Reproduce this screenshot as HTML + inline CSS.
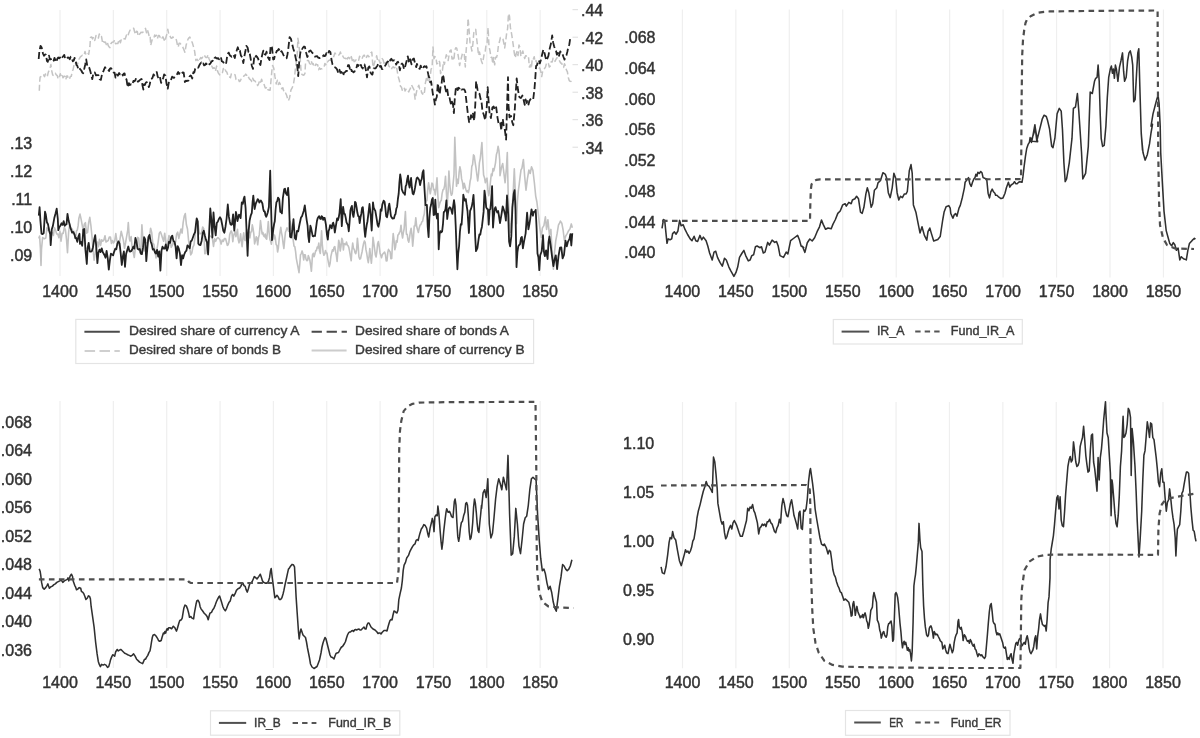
<!DOCTYPE html>
<html><head><meta charset="utf-8"><style>html,body{margin:0;padding:0;background:#fff;}svg{display:block;filter:blur(0.45px);}</style></head>
<body><svg width="1200" height="738" viewBox="0 0 1200 738" font-family='"Liberation Sans", sans-serif'><line x1="60.00" y1="10" x2="60.00" y2="276" stroke="#efefef" stroke-width="1.2"/>
<line x1="113.35" y1="10" x2="113.35" y2="276" stroke="#efefef" stroke-width="1.2"/>
<line x1="166.70" y1="10" x2="166.70" y2="276" stroke="#efefef" stroke-width="1.2"/>
<line x1="220.05" y1="10" x2="220.05" y2="276" stroke="#efefef" stroke-width="1.2"/>
<line x1="273.40" y1="10" x2="273.40" y2="276" stroke="#efefef" stroke-width="1.2"/>
<line x1="326.75" y1="10" x2="326.75" y2="276" stroke="#efefef" stroke-width="1.2"/>
<line x1="380.10" y1="10" x2="380.10" y2="276" stroke="#efefef" stroke-width="1.2"/>
<line x1="433.45" y1="10" x2="433.45" y2="276" stroke="#efefef" stroke-width="1.2"/>
<line x1="486.80" y1="10" x2="486.80" y2="276" stroke="#efefef" stroke-width="1.2"/>
<line x1="540.15" y1="10" x2="540.15" y2="276" stroke="#efefef" stroke-width="1.2"/>
<line x1="682.40" y1="9.6" x2="682.40" y2="277.5" stroke="#efefef" stroke-width="1.2"/>
<line x1="735.85" y1="9.6" x2="735.85" y2="277.5" stroke="#efefef" stroke-width="1.2"/>
<line x1="789.30" y1="9.6" x2="789.30" y2="277.5" stroke="#efefef" stroke-width="1.2"/>
<line x1="842.75" y1="9.6" x2="842.75" y2="277.5" stroke="#efefef" stroke-width="1.2"/>
<line x1="896.20" y1="9.6" x2="896.20" y2="277.5" stroke="#efefef" stroke-width="1.2"/>
<line x1="949.65" y1="9.6" x2="949.65" y2="277.5" stroke="#efefef" stroke-width="1.2"/>
<line x1="1003.10" y1="9.6" x2="1003.10" y2="277.5" stroke="#efefef" stroke-width="1.2"/>
<line x1="1056.55" y1="9.6" x2="1056.55" y2="277.5" stroke="#efefef" stroke-width="1.2"/>
<line x1="1110.00" y1="9.6" x2="1110.00" y2="277.5" stroke="#efefef" stroke-width="1.2"/>
<line x1="1163.45" y1="9.6" x2="1163.45" y2="277.5" stroke="#efefef" stroke-width="1.2"/>
<line x1="60.00" y1="401" x2="60.00" y2="668" stroke="#efefef" stroke-width="1.2"/>
<line x1="113.35" y1="401" x2="113.35" y2="668" stroke="#efefef" stroke-width="1.2"/>
<line x1="166.70" y1="401" x2="166.70" y2="668" stroke="#efefef" stroke-width="1.2"/>
<line x1="220.05" y1="401" x2="220.05" y2="668" stroke="#efefef" stroke-width="1.2"/>
<line x1="273.40" y1="401" x2="273.40" y2="668" stroke="#efefef" stroke-width="1.2"/>
<line x1="326.75" y1="401" x2="326.75" y2="668" stroke="#efefef" stroke-width="1.2"/>
<line x1="380.10" y1="401" x2="380.10" y2="668" stroke="#efefef" stroke-width="1.2"/>
<line x1="433.45" y1="401" x2="433.45" y2="668" stroke="#efefef" stroke-width="1.2"/>
<line x1="486.80" y1="401" x2="486.80" y2="668" stroke="#efefef" stroke-width="1.2"/>
<line x1="540.15" y1="401" x2="540.15" y2="668" stroke="#efefef" stroke-width="1.2"/>
<line x1="682.50" y1="401.9" x2="682.50" y2="668.3" stroke="#efefef" stroke-width="1.2"/>
<line x1="735.89" y1="401.9" x2="735.89" y2="668.3" stroke="#efefef" stroke-width="1.2"/>
<line x1="789.28" y1="401.9" x2="789.28" y2="668.3" stroke="#efefef" stroke-width="1.2"/>
<line x1="842.67" y1="401.9" x2="842.67" y2="668.3" stroke="#efefef" stroke-width="1.2"/>
<line x1="896.06" y1="401.9" x2="896.06" y2="668.3" stroke="#efefef" stroke-width="1.2"/>
<line x1="949.45" y1="401.9" x2="949.45" y2="668.3" stroke="#efefef" stroke-width="1.2"/>
<line x1="1002.84" y1="401.9" x2="1002.84" y2="668.3" stroke="#efefef" stroke-width="1.2"/>
<line x1="1056.23" y1="401.9" x2="1056.23" y2="668.3" stroke="#efefef" stroke-width="1.2"/>
<line x1="1109.62" y1="401.9" x2="1109.62" y2="668.3" stroke="#efefef" stroke-width="1.2"/>
<line x1="1163.01" y1="401.9" x2="1163.01" y2="668.3" stroke="#efefef" stroke-width="1.2"/>
<text x="60.00" y="297.20" font-size="16" text-anchor="middle" fill="#333" stroke="#333" stroke-width="0.45" >1400</text>
<text x="113.35" y="297.20" font-size="16" text-anchor="middle" fill="#333" stroke="#333" stroke-width="0.45" >1450</text>
<text x="166.70" y="297.20" font-size="16" text-anchor="middle" fill="#333" stroke="#333" stroke-width="0.45" >1500</text>
<text x="220.05" y="297.20" font-size="16" text-anchor="middle" fill="#333" stroke="#333" stroke-width="0.45" >1550</text>
<text x="273.40" y="297.20" font-size="16" text-anchor="middle" fill="#333" stroke="#333" stroke-width="0.45" >1600</text>
<text x="326.75" y="297.20" font-size="16" text-anchor="middle" fill="#333" stroke="#333" stroke-width="0.45" >1650</text>
<text x="380.10" y="297.20" font-size="16" text-anchor="middle" fill="#333" stroke="#333" stroke-width="0.45" >1700</text>
<text x="433.45" y="297.20" font-size="16" text-anchor="middle" fill="#333" stroke="#333" stroke-width="0.45" >1750</text>
<text x="486.80" y="297.20" font-size="16" text-anchor="middle" fill="#333" stroke="#333" stroke-width="0.45" >1800</text>
<text x="540.15" y="297.20" font-size="16" text-anchor="middle" fill="#333" stroke="#333" stroke-width="0.45" >1850</text>
<text x="682.40" y="297.20" font-size="16" text-anchor="middle" fill="#333" stroke="#333" stroke-width="0.45" >1400</text>
<text x="735.85" y="297.20" font-size="16" text-anchor="middle" fill="#333" stroke="#333" stroke-width="0.45" >1450</text>
<text x="789.30" y="297.20" font-size="16" text-anchor="middle" fill="#333" stroke="#333" stroke-width="0.45" >1500</text>
<text x="842.75" y="297.20" font-size="16" text-anchor="middle" fill="#333" stroke="#333" stroke-width="0.45" >1550</text>
<text x="896.20" y="297.20" font-size="16" text-anchor="middle" fill="#333" stroke="#333" stroke-width="0.45" >1600</text>
<text x="949.65" y="297.20" font-size="16" text-anchor="middle" fill="#333" stroke="#333" stroke-width="0.45" >1650</text>
<text x="1003.10" y="297.20" font-size="16" text-anchor="middle" fill="#333" stroke="#333" stroke-width="0.45" >1700</text>
<text x="1056.55" y="297.20" font-size="16" text-anchor="middle" fill="#333" stroke="#333" stroke-width="0.45" >1750</text>
<text x="1110.00" y="297.20" font-size="16" text-anchor="middle" fill="#333" stroke="#333" stroke-width="0.45" >1800</text>
<text x="1163.45" y="297.20" font-size="16" text-anchor="middle" fill="#333" stroke="#333" stroke-width="0.45" >1850</text>
<text x="60.00" y="688.40" font-size="16" text-anchor="middle" fill="#333" stroke="#333" stroke-width="0.45" >1400</text>
<text x="113.35" y="688.40" font-size="16" text-anchor="middle" fill="#333" stroke="#333" stroke-width="0.45" >1450</text>
<text x="166.70" y="688.40" font-size="16" text-anchor="middle" fill="#333" stroke="#333" stroke-width="0.45" >1500</text>
<text x="220.05" y="688.40" font-size="16" text-anchor="middle" fill="#333" stroke="#333" stroke-width="0.45" >1550</text>
<text x="273.40" y="688.40" font-size="16" text-anchor="middle" fill="#333" stroke="#333" stroke-width="0.45" >1600</text>
<text x="326.75" y="688.40" font-size="16" text-anchor="middle" fill="#333" stroke="#333" stroke-width="0.45" >1650</text>
<text x="380.10" y="688.40" font-size="16" text-anchor="middle" fill="#333" stroke="#333" stroke-width="0.45" >1700</text>
<text x="433.45" y="688.40" font-size="16" text-anchor="middle" fill="#333" stroke="#333" stroke-width="0.45" >1750</text>
<text x="486.80" y="688.40" font-size="16" text-anchor="middle" fill="#333" stroke="#333" stroke-width="0.45" >1800</text>
<text x="540.15" y="688.40" font-size="16" text-anchor="middle" fill="#333" stroke="#333" stroke-width="0.45" >1850</text>
<text x="682.50" y="688.40" font-size="16" text-anchor="middle" fill="#333" stroke="#333" stroke-width="0.45" >1400</text>
<text x="735.89" y="688.40" font-size="16" text-anchor="middle" fill="#333" stroke="#333" stroke-width="0.45" >1450</text>
<text x="789.28" y="688.40" font-size="16" text-anchor="middle" fill="#333" stroke="#333" stroke-width="0.45" >1500</text>
<text x="842.67" y="688.40" font-size="16" text-anchor="middle" fill="#333" stroke="#333" stroke-width="0.45" >1550</text>
<text x="896.06" y="688.40" font-size="16" text-anchor="middle" fill="#333" stroke="#333" stroke-width="0.45" >1600</text>
<text x="949.45" y="688.40" font-size="16" text-anchor="middle" fill="#333" stroke="#333" stroke-width="0.45" >1650</text>
<text x="1002.84" y="688.40" font-size="16" text-anchor="middle" fill="#333" stroke="#333" stroke-width="0.45" >1700</text>
<text x="1056.23" y="688.40" font-size="16" text-anchor="middle" fill="#333" stroke="#333" stroke-width="0.45" >1750</text>
<text x="1109.62" y="688.40" font-size="16" text-anchor="middle" fill="#333" stroke="#333" stroke-width="0.45" >1800</text>
<text x="1163.01" y="688.40" font-size="16" text-anchor="middle" fill="#333" stroke="#333" stroke-width="0.45" >1850</text>
<text x="32.20" y="148.90" font-size="16" text-anchor="end" fill="#333" stroke="#333" stroke-width="0.45" >.13</text>
<text x="32.20" y="176.97" font-size="16" text-anchor="end" fill="#333" stroke="#333" stroke-width="0.45" >.12</text>
<text x="32.20" y="205.04" font-size="16" text-anchor="end" fill="#333" stroke="#333" stroke-width="0.45" >.11</text>
<text x="32.20" y="233.11" font-size="16" text-anchor="end" fill="#333" stroke="#333" stroke-width="0.45" >.10</text>
<text x="32.20" y="261.18" font-size="16" text-anchor="end" fill="#333" stroke="#333" stroke-width="0.45" >.09</text>
<text x="581.00" y="16.00" font-size="16" text-anchor="start" fill="#333" stroke="#333" stroke-width="0.45" >.44</text>
<line x1="572.5" y1="9.70" x2="578" y2="9.70" stroke="#ddd" stroke-width="1"/>
<text x="581.00" y="43.50" font-size="16" text-anchor="start" fill="#333" stroke="#333" stroke-width="0.45" >.42</text>
<line x1="572.5" y1="37.20" x2="578" y2="37.20" stroke="#ddd" stroke-width="1"/>
<text x="581.00" y="71.00" font-size="16" text-anchor="start" fill="#333" stroke="#333" stroke-width="0.45" >.40</text>
<line x1="572.5" y1="64.70" x2="578" y2="64.70" stroke="#ddd" stroke-width="1"/>
<text x="581.00" y="98.50" font-size="16" text-anchor="start" fill="#333" stroke="#333" stroke-width="0.45" >.38</text>
<line x1="572.5" y1="92.20" x2="578" y2="92.20" stroke="#ddd" stroke-width="1"/>
<text x="581.00" y="126.00" font-size="16" text-anchor="start" fill="#333" stroke="#333" stroke-width="0.45" >.36</text>
<line x1="572.5" y1="119.70" x2="578" y2="119.70" stroke="#ddd" stroke-width="1"/>
<text x="581.00" y="153.50" font-size="16" text-anchor="start" fill="#333" stroke="#333" stroke-width="0.45" >.34</text>
<line x1="572.5" y1="147.20" x2="578" y2="147.20" stroke="#ddd" stroke-width="1"/>
<text x="655.50" y="43.40" font-size="16" text-anchor="end" fill="#333" stroke="#333" stroke-width="0.45" >.068</text>
<text x="655.50" y="74.09" font-size="16" text-anchor="end" fill="#333" stroke="#333" stroke-width="0.45" >.064</text>
<text x="655.50" y="104.78" font-size="16" text-anchor="end" fill="#333" stroke="#333" stroke-width="0.45" >.060</text>
<text x="655.50" y="135.47" font-size="16" text-anchor="end" fill="#333" stroke="#333" stroke-width="0.45" >.056</text>
<text x="655.50" y="166.16" font-size="16" text-anchor="end" fill="#333" stroke="#333" stroke-width="0.45" >.052</text>
<text x="655.50" y="196.85" font-size="16" text-anchor="end" fill="#333" stroke="#333" stroke-width="0.45" >.048</text>
<text x="655.50" y="227.54" font-size="16" text-anchor="end" fill="#333" stroke="#333" stroke-width="0.45" >.044</text>
<text x="655.50" y="258.23" font-size="16" text-anchor="end" fill="#333" stroke="#333" stroke-width="0.45" >.040</text>
<text x="32.00" y="427.60" font-size="16" text-anchor="end" fill="#333" stroke="#333" stroke-width="0.45" >.068</text>
<text x="32.00" y="456.15" font-size="16" text-anchor="end" fill="#333" stroke="#333" stroke-width="0.45" >.064</text>
<text x="32.00" y="484.70" font-size="16" text-anchor="end" fill="#333" stroke="#333" stroke-width="0.45" >.060</text>
<text x="32.00" y="513.25" font-size="16" text-anchor="end" fill="#333" stroke="#333" stroke-width="0.45" >.056</text>
<text x="32.00" y="541.80" font-size="16" text-anchor="end" fill="#333" stroke="#333" stroke-width="0.45" >.052</text>
<text x="32.00" y="570.35" font-size="16" text-anchor="end" fill="#333" stroke="#333" stroke-width="0.45" >.048</text>
<text x="32.00" y="598.90" font-size="16" text-anchor="end" fill="#333" stroke="#333" stroke-width="0.45" >.044</text>
<text x="32.00" y="627.45" font-size="16" text-anchor="end" fill="#333" stroke="#333" stroke-width="0.45" >.040</text>
<text x="32.00" y="656.00" font-size="16" text-anchor="end" fill="#333" stroke="#333" stroke-width="0.45" >.036</text>
<text x="654.20" y="448.80" font-size="16" text-anchor="end" fill="#333" stroke="#333" stroke-width="0.45" >1.10</text>
<text x="654.20" y="497.90" font-size="16" text-anchor="end" fill="#333" stroke="#333" stroke-width="0.45" >1.05</text>
<text x="654.20" y="547.00" font-size="16" text-anchor="end" fill="#333" stroke="#333" stroke-width="0.45" >1.00</text>
<text x="654.20" y="596.10" font-size="16" text-anchor="end" fill="#333" stroke="#333" stroke-width="0.45" >0.95</text>
<text x="654.20" y="645.20" font-size="16" text-anchor="end" fill="#333" stroke="#333" stroke-width="0.45" >0.90</text>
<rect x="75.8" y="319.4" width="457.8" height="44.10000000000002" fill="#fff" stroke="#e4e4e4" stroke-width="1.2"/>
<line x1="84.4" y1="331.8" x2="119.8" y2="331.8" stroke="#4a4a4a" stroke-width="2.1"/>
<text x="129" y="335.2" font-size="12.4" fill="#3a3a3a" stroke="#3a3a3a" stroke-width="0.4" textLength="170.6" lengthAdjust="spacingAndGlyphs">Desired share of currency A</text>
<line x1="311.6" y1="331.8" x2="346.9" y2="331.8" stroke="#4a4a4a" stroke-width="2.1" stroke-dasharray="10.3,4.7"/>
<text x="355" y="335.2" font-size="12.4" fill="#3a3a3a" stroke="#3a3a3a" stroke-width="0.4" textLength="154" lengthAdjust="spacingAndGlyphs">Desired share of bonds A</text>
<line x1="84.6" y1="350.9" x2="119.8" y2="350.9" stroke="#cfcfcf" stroke-width="2" stroke-dasharray="10.5,4.4"/>
<text x="129" y="354" font-size="12.4" fill="#3a3a3a" stroke="#3a3a3a" stroke-width="0.4" textLength="152" lengthAdjust="spacingAndGlyphs">Desired share of bonds B</text>
<line x1="311.6" y1="350.6" x2="346.6" y2="350.6" stroke="#cccccc" stroke-width="2"/>
<text x="355" y="354" font-size="12.4" fill="#3a3a3a" stroke="#3a3a3a" stroke-width="0.4" textLength="169.6" lengthAdjust="spacingAndGlyphs">Desired share of currency B</text>
<rect x="833.3" y="319.5" width="189.0" height="24.5" fill="#fff" stroke="#e4e4e4" stroke-width="1.2"/>
<line x1="841.6" y1="331.6" x2="869.2" y2="331.6" stroke="#505050" stroke-width="2.0"/>
<text x="876.9" y="335.3" font-size="12.4" fill="#3a3a3a" stroke="#3a3a3a" stroke-width="0.4" textLength="27.5" lengthAdjust="spacingAndGlyphs">IR_A</text>
<line x1="915.2" y1="331.6" x2="939.6" y2="331.6" stroke="#555555" stroke-width="2.0" stroke-dasharray="5.4,4.1"/>
<text x="950.8" y="335.3" font-size="12.4" fill="#3a3a3a" stroke="#3a3a3a" stroke-width="0.4" textLength="63.7" lengthAdjust="spacingAndGlyphs">Fund_IR_A</text>
<rect x="210.5" y="710.8" width="189.3" height="24.40000000000009" fill="#fff" stroke="#e4e4e4" stroke-width="1.2"/>
<line x1="218.9" y1="722.9" x2="246.2" y2="722.9" stroke="#505050" stroke-width="2.0"/>
<text x="254.1" y="726.6" font-size="12.4" fill="#3a3a3a" stroke="#3a3a3a" stroke-width="0.4" textLength="26.6" lengthAdjust="spacingAndGlyphs">IR_B</text>
<line x1="292.6" y1="722.9" x2="316.4" y2="722.9" stroke="#555555" stroke-width="2.0" stroke-dasharray="5.4,4.1"/>
<text x="328.3" y="726.6" font-size="12.4" fill="#3a3a3a" stroke="#3a3a3a" stroke-width="0.4" textLength="63" lengthAdjust="spacingAndGlyphs">Fund_IR_B</text>
<rect x="845.5" y="710.5" width="164.5" height="24.799999999999955" fill="#fff" stroke="#e4e4e4" stroke-width="1.2"/>
<line x1="854.2" y1="722.5" x2="880.8" y2="722.5" stroke="#505050" stroke-width="2.0"/>
<text x="889.2" y="726.7" font-size="12.4" fill="#3a3a3a" stroke="#3a3a3a" stroke-width="0.4" textLength="14.1" lengthAdjust="spacingAndGlyphs">ER</text>
<line x1="915.3" y1="722.5" x2="939.2" y2="722.5" stroke="#555555" stroke-width="2.0" stroke-dasharray="5.4,4.1"/>
<text x="950.8" y="726.7" font-size="12.4" fill="#3a3a3a" stroke="#3a3a3a" stroke-width="0.4" textLength="50.5" lengthAdjust="spacingAndGlyphs">Fund_ER</text>
<path d="M662.0,228.3 L663.5,219.5 L664.7,220.4 L667.0,243.3 L668.2,238.9 L670.0,239.8 L671.7,238.9 L672.6,233.6 L674.4,231.9 L676.1,234.2 L677.9,231.0 L679.6,220.4 L681.1,225.7 L683.2,224.8 L684.9,229.2 L687.6,234.5 L690.2,238.9 L692.0,240.7 L694.1,236.3 L695.8,240.7 L697.6,241.5 L699.9,235.4 L701.7,239.8 L703.4,237.1 L706.1,240.7 L707.8,246.0 L709.6,253.0 L712.2,260.0 L714.0,252.1 L715.7,251.2 L717.5,257.4 L720.1,262.7 L722.3,266.2 L724.5,258.3 L726.3,260.0 L728.9,267.1 L730.7,270.6 L733.9,276.4 L736.0,272.4 L737.7,267.1 L739.5,257.4 L742.1,253.0 L743.9,250.4 L745.7,255.6 L748.3,260.9 L750.1,260.0 L751.8,255.6 L753.6,254.8 L755.4,246.8 L757.1,246.0 L759.8,247.7 L761.5,246.8 L763.3,253.0 L765.0,252.1 L767.7,242.4 L769.4,245.1 L772.1,240.1 L774.7,242.4 L776.5,241.5 L778.2,246.0 L780.0,255.6 L783.5,257.4 L786.2,252.1 L787.9,253.9 L790.6,240.7 L794.1,238.0 L797.6,235.4 L799.4,239.8 L801.1,246.0 L803.8,247.7 L802.4,246.3 L804.9,252.4 L807.3,242.7 L809.8,239.0 L812.2,241.0 L814.6,237.8 L817.1,231.7 L819.5,226.8 L821.5,220.0 L823.2,224.4 L825.6,229.3 L828.0,228.0 L831.2,228.8 L832.9,224.4 L835.4,219.5 L837.8,213.4 L840.2,211.0 L842.7,204.9 L845.1,203.7 L846.3,206.1 L848.8,202.4 L851.2,203.7 L852.4,200.0 L854.9,198.8 L856.6,196.3 L858.5,198.8 L860.5,212.2 L862.2,213.4 L863.9,207.3 L865.9,193.9 L867.3,187.8 L868.8,192.7 L871.2,207.3 L872.7,203.7 L874.4,190.2 L876.8,187.8 L878.0,182.9 L880.5,180.5 L882.9,172.7 L885.4,174.4 L886.6,178.0 L888.3,192.7 L890.2,197.6 L892.2,187.8 L893.9,173.2 L895.6,178.0 L897.1,192.7 L898.8,200.0 L900.5,196.3 L902.4,197.6 L904.4,193.9 L906.1,193.9 L907.3,191.5 L909.3,170.7 L911.0,164.6 L912.2,173.2 L913.4,204.9 L915.9,212.2 L918.3,224.4 L920.0,232.9 L922.0,226.8 L924.4,235.4 L926.8,240.2 L928.0,231.7 L929.8,228.0 L931.2,232.9 L933.7,241.0 L937.8,239.5 L940.2,236.6 L942.7,220.0 L944.1,212.1 L946.1,206.7 L948.8,205.6 L950.2,208.1 L950.8,213.5 L952.9,218.2 L954.2,214.9 L955.6,213.5 L956.9,216.2 L959.0,208.1 L960.3,205.4 L962.4,197.2 L964.4,187.8 L965.1,182.3 L967.1,179.6 L968.5,177.6 L969.8,183.7 L971.2,186.4 L972.5,182.3 L973.9,178.9 L975.0,177.6 L975.9,174.2 L976.9,176.2 L977.9,172.2 L979.3,173.5 L980.7,171.5 L982.0,172.8 L983.1,177.6 L984.7,178.3 L986.7,178.9 L988.1,193.2 L989.5,197.9 L990.8,191.8 L992.2,189.1 L993.5,191.8 L994.9,193.2 L995.6,195.2 L996.9,195.2 L998.9,197.2 L1001.0,198.6 L1003.0,197.9 L1005.0,193.2 L1006.4,187.8 L1008.4,182.3 L1009.8,187.1 L1011.1,185.0 L1013.2,183.7 L1014.5,181.7 L1015.9,183.7 L1017.2,183.7 L1018.6,182.3 L1019.9,181.7 L1022.0,182.3 L1022.9,176.9 L1024.0,167.4 L1025.4,156.6 L1026.7,148.5 L1028.1,144.4 L1029.4,142.4 L1030.1,137.6 L1031.5,142.4 L1032.8,136.3 L1034.2,132.2 L1034.9,125.4 L1036.2,133.6 L1037.6,141.7 L1030.0,140.9 L1032.7,136.9 L1034.9,124.7 L1036.8,140.9 L1039.5,130.1 L1042.2,119.2 L1044.1,115.2 L1046.3,116.5 L1047.6,120.6 L1049.5,128.7 L1051.7,146.3 L1053.0,147.7 L1054.9,138.2 L1057.1,113.8 L1059.3,108.4 L1061.2,111.1 L1062.5,130.1 L1063.9,162.6 L1065.2,181.6 L1066.6,178.9 L1069.3,162.6 L1072.0,138.2 L1073.4,108.4 L1075.5,107.0 L1077.4,93.5 L1078.8,111.1 L1081.5,151.8 L1082.8,178.9 L1084.2,176.2 L1085.6,173.4 L1088.3,146.3 L1090.2,92.1 L1092.3,93.5 L1094.5,81.3 L1095.7,78.3 L1097.1,77.3 L1098.1,65.1 L1099.2,81.3 L1100.2,113.9 L1101.2,138.3 L1102.6,146.4 L1104.2,145.4 L1105.9,126.1 L1107.3,97.6 L1108.7,77.3 L1110.3,69.1 L1111.4,66.1 L1112.4,73.2 L1113.4,69.1 L1114.4,78.3 L1115.4,65.1 L1116.4,69.1 L1117.9,81.3 L1119.5,67.1 L1120.9,61.0 L1122.5,52.9 L1123.6,71.2 L1124.6,81.3 L1126.2,77.3 L1127.6,61.0 L1129.0,52.9 L1130.3,50.8 L1131.7,56.9 L1132.7,65.1 L1133.7,101.7 L1135.1,99.6 L1136.8,69.1 L1137.8,52.9 L1138.8,48.8 L1139.8,85.4 L1141.2,132.2 L1142.5,150.1 L1141.2,133.0 L1143.0,152.5 L1145.1,160.1 L1147.3,154.7 L1149.5,143.9 L1151.0,133.0 L1152.5,124.3 L1151.0,126.1 L1153.0,113.9 L1155.1,105.7 L1156.7,99.6 L1158.1,95.6 L1159.1,103.7 L1160.2,126.1 L1160.7,152.5 L1162.5,185.1 L1164.0,211.1 L1166.2,230.6 L1168.3,238.2 L1169.8,243.6 L1171.6,245.8 L1173.3,242.6 L1174.8,244.7 L1176.4,250.2 L1178.1,248.0 L1179.8,259.9 L1181.3,256.7 L1183.5,258.8 L1186.3,259.9 L1187.9,250.2 L1189.4,243.6 L1192.2,240.4 L1194.4,238.2 L1195.4,239.3" fill="none" stroke="#303030" stroke-width="1.55" stroke-linejoin="round" />
<path d="M662.0,220.8 L810.0,220.8 L810.3,205.0 L810.8,190.0 L811.5,184.5 L813.3,181.5 L816.3,179.9 L820.0,179.4 L1021.0,179.2 L1021.3,150.0 L1021.6,100.0 L1022.2,55.0 L1023.0,40.0 L1024.2,30.0 L1025.5,23.0 L1027.1,19.1 L1031.1,15.9 L1036.8,13.0 L1044.1,11.8 L1050.0,11.4 L1100.0,10.8 L1157.6,10.5 L1157.8,60.0 L1158.2,150.0 L1159.0,200.0 L1160.0,225.0 L1163.0,238.0 L1167.0,245.0 L1175.0,248.5 L1194.0,249.0" fill="none" stroke="#4e4e4e" stroke-width="2.2" stroke-linejoin="round" stroke-dasharray="5.6,4.4" />
<path d="M661.1,566.8 L662.3,572.9 L664.3,573.7 L666.0,566.8 L667.7,554.6 L669.1,542.4 L670.1,537.6 L671.6,538.8 L672.6,531.5 L674.0,537.6 L675.7,540.0 L677.4,549.8 L679.4,560.7 L681.3,565.6 L683.0,559.5 L684.3,554.6 L685.5,549.8 L686.7,552.2 L687.9,551.0 L689.1,553.4 L690.4,551.0 L691.6,547.3 L692.8,541.2 L694.0,538.8 L696.0,526.6 L697.0,518.0 L698.4,510.7 L700.1,504.6 L701.8,497.3 L703.3,491.2 L705.0,486.3 L706.2,481.5 L707.4,485.1 L709.1,486.3 L711.1,490.0 L712.3,492.4 L713.5,457.1 L714.8,462.0 L716.0,474.1 L717.2,488.8 L717.9,503.4 L719.6,513.2 L720.9,520.5 L722.1,524.1 L723.3,521.7 L724.5,532.7 L725.7,538.8 L727.0,536.3 L728.2,531.5 L729.4,527.8 L730.6,525.4 L731.8,529.0 L733.0,522.9 L734.3,520.5 L735.5,522.9 L736.7,525.4 L737.9,529.0 L739.1,532.7 L740.4,536.3 L742.3,536.3 L744.0,530.2 L745.2,525.4 L746.5,520.5 L747.7,508.3 L748.9,510.7 L750.1,507.1 L751.3,508.3 L752.6,504.6 L753.8,510.7 L755.0,513.2 L756.2,518.0 L757.4,522.9 L758.7,533.9 L759.9,527.8 L761.1,526.6 L762.3,524.1 L763.5,525.4 L764.8,524.1 L766.0,526.6 L767.2,521.7 L768.4,521.7 L769.6,519.3 L770.9,522.9 L772.1,524.1 L773.3,527.8 L774.5,531.5 L775.7,532.7 L777.0,527.8 L778.2,525.4 L779.4,519.3 L780.6,522.9 L781.8,505.9 L783.0,498.5 L784.3,503.4 L785.5,510.7 L786.7,515.6 L787.9,516.8 L789.1,510.7 L790.4,503.4 L791.6,499.8 L792.8,507.1 L794.0,515.6 L795.2,519.3 L796.5,524.1 L797.7,529.0 L798.9,513.2 L800.0,511.2 L801.2,528.3 L802.4,529.5 L803.7,510.0 L804.9,511.2 L806.1,508.8 L807.3,499.0 L808.5,482.0 L809.8,471.0 L810.5,468.5 L811.7,477.1 L812.7,484.4 L814.1,496.6 L815.1,508.8 L816.6,518.5 L818.3,528.3 L820.0,538.0 L821.5,544.1 L823.2,545.4 L824.4,544.1 L826.3,547.8 L828.0,553.9 L829.3,550.2 L830.5,551.5 L831.7,560.0 L832.9,569.8 L834.1,574.6 L835.4,577.1 L836.6,582.0 L837.8,585.6 L839.0,588.0 L840.2,591.7 L841.5,592.9 L842.7,596.6 L843.9,600.2 L845.1,599.0 L846.4,599.9 L848.0,601.5 L848.8,602.3 L849.6,605.6 L850.4,608.8 L851.2,616.1 L852.1,615.3 L852.9,603.9 L853.7,601.5 L854.5,607.2 L855.3,615.3 L856.1,610.4 L856.9,606.4 L857.8,611.2 L858.6,613.7 L859.4,615.3 L860.2,617.8 L861.0,616.1 L861.8,616.9 L862.6,614.5 L863.4,617.8 L864.3,614.5 L865.1,612.9 L865.9,616.1 L866.7,621.0 L867.5,622.6 L868.3,628.3 L869.1,625.1 L870.0,617.8 L870.8,610.4 L871.6,608.8 L872.4,607.2 L873.2,596.6 L874.0,592.5 L874.8,595.8 L875.6,599.0 L876.5,602.3 L877.3,620.2 L878.1,621.8 L878.9,624.3 L879.7,630.0 L880.5,632.4 L881.3,638.1 L882.2,634.8 L883.0,632.4 L883.8,631.6 L884.6,634.8 L885.4,636.5 L886.2,637.3 L887.0,634.8 L887.8,626.7 L888.7,623.4 L889.5,623.4 L890.3,621.8 L891.1,621.0 L891.9,626.7 L892.7,641.3 L893.5,639.7 L894.4,616.9 L895.2,594.2 L896.0,592.5 L896.8,594.2 L897.6,597.4 L898.4,603.9 L899.2,613.7 L900.0,623.4 L900.9,631.6 L901.7,641.3 L902.5,647.8 L903.3,643.0 L904.1,641.3 L904.9,644.6 L905.7,642.2 L906.6,646.2 L907.4,650.3 L908.2,647.8 L909.0,651.1 L909.8,649.5 L910.6,654.4 L911.4,660.9 L912.2,651.1 L913.1,621.8 L913.9,586.0 L914.7,579.5 L915.5,574.6 L916.3,566.5 L918.3,542.9 L919.0,523.4 L920.0,540.5 L920.7,547.8 L922.0,551.5 L922.8,584.4 L923.6,605.6 L924.5,618.6 L925.3,626.7 L926.6,634.8 L927.7,636.5 L928.5,634.8 L929.3,628.3 L930.1,626.7 L931.0,625.9 L931.8,628.3 L932.6,632.4 L933.4,638.1 L934.2,631.6 L935.0,633.2 L935.8,634.8 L936.7,634.0 L937.5,634.8 L938.3,636.5 L939.9,639.7 L940.0,640.5 L941.9,642.4 L942.8,649.0 L943.8,647.1 L944.7,645.2 L945.7,650.0 L946.6,652.8 L948.0,653.7 L949.1,648.1 L949.9,644.3 L951.0,648.1 L952.3,652.8 L953.3,650.0 L954.2,642.4 L955.2,637.6 L956.1,634.8 L957.1,632.9 L958.0,621.5 L958.6,619.6 L959.3,627.2 L960.5,629.1 L961.2,627.2 L962.4,632.9 L963.1,640.5 L964.3,634.8 L965.6,636.7 L966.5,639.5 L967.5,641.4 L968.4,640.5 L969.4,643.3 L970.3,639.5 L971.3,641.4 L972.2,644.3 L973.2,646.2 L974.1,644.3 L975.1,649.0 L976.0,650.0 L977.0,653.7 L977.9,656.6 L978.9,653.7 L979.8,654.7 L980.8,655.6 L981.7,654.7 L982.7,656.6 L983.6,657.5 L984.5,658.5 L985.5,656.6 L986.4,646.2 L987.4,634.8 L988.3,623.4 L989.3,612.0 L990.2,605.4 L991.2,603.5 L992.1,611.1 L993.1,621.5 L994.0,623.4 L995.0,624.4 L995.9,631.0 L996.9,634.8 L997.8,632.9 L998.8,634.8 L999.7,633.8 L1000.7,636.7 L1001.6,639.5 L1002.6,642.4 L1003.5,647.1 L1004.5,648.1 L1005.4,647.1 L1006.4,653.7 L1007.3,659.4 L1008.2,657.5 L1009.2,659.4 L1010.1,655.6 L1011.1,653.7 L1012.0,659.4 L1013.0,663.2 L1013.9,653.7 L1014.9,648.1 L1015.8,643.3 L1016.8,642.4 L1017.7,645.2 L1018.7,640.5 L1019.6,638.6 L1020.6,639.5 L1021.5,646.2 L1022.5,645.2 L1023.4,643.3 L1024.4,642.4 L1025.3,644.3 L1026.3,638.6 L1027.2,635.7 L1028.2,640.5 L1029.1,648.1 L1030.0,651.8 L1031.0,653.7 L1031.9,651.8 L1032.9,650.0 L1033.8,646.2 L1034.8,638.6 L1035.7,635.7 L1036.7,649.0 L1037.6,636.7 L1038.6,629.1 L1039.5,619.6 L1040.5,613.9 L1041.4,619.6 L1042.4,624.4 L1043.3,625.3 L1044.3,626.3 L1045.2,625.3 L1046.2,631.0 L1047.1,619.6 L1048.1,602.6 L1049.0,596.9 L1050.0,577.9 L1050.1,559.9 L1051.2,549.2 L1052.3,542.5 L1053.4,535.8 L1054.5,524.6 L1055.6,511.2 L1056.8,497.8 L1057.9,495.6 L1059.0,509.0 L1060.1,496.7 L1061.2,520.1 L1062.3,525.7 L1063.5,526.8 L1064.6,511.2 L1065.7,493.3 L1066.8,479.9 L1067.9,466.5 L1069.1,459.8 L1070.2,456.5 L1071.3,462.0 L1072.4,459.8 L1073.5,441.9 L1074.6,450.9 L1075.8,462.0 L1076.9,466.5 L1078.0,465.4 L1079.1,462.0 L1080.2,446.4 L1081.3,441.9 L1082.5,437.5 L1083.6,426.3 L1084.7,439.7 L1085.8,455.3 L1086.9,464.3 L1088.0,472.1 L1089.2,471.0 L1090.3,450.9 L1091.4,435.2 L1092.5,434.1 L1093.6,462.0 L1094.7,468.7 L1095.9,479.9 L1097.0,491.1 L1098.1,457.6 L1099.2,479.9 L1100.3,457.6 L1101.5,448.6 L1102.6,435.2 L1103.7,419.6 L1104.8,408.4 L1105.5,401.7 L1105.9,412.9 L1107.0,433.0 L1108.2,437.5 L1109.3,455.3 L1110.4,473.2 L1111.1,515.7 L1112.0,479.9 L1112.6,484.4 L1113.7,497.8 L1114.9,513.4 L1116.0,523.5 L1117.1,526.8 L1118.2,515.7 L1119.3,495.6 L1120.4,466.5 L1121.6,450.9 L1122.7,424.1 L1123.1,416.2 L1123.8,437.5 L1124.9,436.3 L1126.0,433.0 L1127.2,424.1 L1128.3,408.4 L1129.4,410.6 L1130.5,417.3 L1131.2,475.4 L1132.1,428.5 L1133.4,441.9 L1135.0,466.5 L1136.1,491.1 L1137.2,520.1 L1138.3,542.5 L1139.0,557.0 L1140.1,540.3 L1141.7,511.2 L1142.8,479.9 L1143.9,455.3 L1145.0,450.9 L1146.1,437.5 L1147.3,421.8 L1148.4,428.5 L1149.5,437.5 L1150.6,422.9 L1151.7,424.1 L1152.8,437.5 L1154.0,439.7 L1155.1,448.6 L1156.2,457.6 L1157.3,468.7 L1158.4,482.2 L1159.6,486.6 L1160.7,473.2 L1161.8,468.7 L1162.9,482.2 L1164.0,482.2 L1165.1,497.8 L1166.3,511.2 L1167.4,502.3 L1168.5,500.0 L1169.6,488.9 L1170.7,497.8 L1171.8,509.0 L1173.0,517.9 L1174.1,524.6 L1175.2,538.0 L1175.9,555.9 L1176.8,538.0 L1177.4,529.1 L1178.5,526.8 L1179.7,524.6 L1180.8,511.2 L1181.9,493.3 L1183.0,491.1 L1184.1,484.4 L1185.3,477.7 L1186.4,472.1 L1187.5,472.1 L1188.6,473.2 L1189.7,488.9 L1190.8,506.7 L1192.0,520.1 L1193.1,530.2 L1194.2,531.3 L1195.3,538.0 L1196.0,541.4" fill="none" stroke="#303030" stroke-width="1.55" stroke-linejoin="round" />
<path d="M661.0,485.5 L806.0,485.0 L808.5,486.5 L809.8,490.0 L810.3,505.0 L810.6,560.0 L811.4,584.4 L812.2,608.8 L813.3,628.3 L815.5,643.0 L818.7,652.7 L824.4,660.9 L832.5,664.9 L842.3,666.6 L857.0,667.0 L881.0,667.4 L950.0,668.0 L1020.4,668.0 L1020.8,640.0 L1021.3,600.0 L1022.0,588.0 L1024.4,570.3 L1029.1,561.8 L1036.7,556.7 L1046.2,554.8 L1060.0,554.6 L1158.0,554.8 L1158.4,529.0 L1159.6,513.4 L1161.8,504.5 L1165.1,500.0 L1171.8,497.8 L1183.0,495.6 L1197.0,493.3" fill="none" stroke="#4e4e4e" stroke-width="2.2" stroke-linejoin="round" stroke-dasharray="5.6,4.4" />
<path d="M39.2,568.9 L40.1,571.2 L40.7,574.9 L41.6,582.4 L42.7,587.6 L44.2,589.1 L45.7,587.6 L47.1,585.3 L47.9,583.9 L48.6,586.1 L49.4,588.3 L50.9,586.8 L52.4,586.1 L53.9,584.6 L55.3,583.9 L56.8,582.4 L58.3,581.6 L59.8,580.9 L61.3,580.1 L62.8,582.4 L64.3,580.9 L65.8,580.1 L67.3,579.4 L68.0,577.9 L68.8,580.9 L69.5,577.9 L70.3,575.7 L71.4,574.2 L72.5,576.4 L73.2,580.9 L74.7,585.3 L75.5,586.8 L76.5,589.8 L77.7,589.1 L79.2,587.6 L80.7,588.3 L81.4,591.3 L82.5,592.1 L83.7,593.5 L84.9,596.5 L85.9,599.5 L87.4,598.0 L88.4,595.8 L89.6,596.5 L90.4,598.8 L91.1,606.2 L92.6,616.7 L94.1,627.1 L95.6,642.0 L97.1,653.9 L98.3,661.4 L99.3,664.4 L100.4,666.6 L101.6,664.4 L103.1,665.1 L104.5,664.4 L106.0,665.1 L107.5,667.4 L108.7,666.6 L109.8,662.9 L110.5,659.9 L111.7,656.9 L112.7,654.7 L113.8,655.4 L114.7,656.2 L115.7,651.7 L117.2,649.5 L118.3,650.9 L119.5,650.2 L120.7,649.5 L121.7,650.2 L123.2,651.7 L124.7,653.2 L126.2,653.9 L127.7,654.7 L129.2,655.4 L130.6,656.2 L132.1,655.4 L133.6,653.9 L135.1,656.2 L136.6,659.2 L138.1,660.6 L139.6,662.1 L141.1,662.9 L142.6,663.6 L143.6,661.4 L144.5,659.2 L145.6,659.2 L146.3,657.7 L147.8,655.4 L149.0,652.4 L150.0,650.9 L150.8,646.5 L151.5,642.0 L152.3,637.5 L153.0,635.3 L154.5,634.5 L156.0,636.0 L157.5,638.3 L158.5,640.5 L159.7,641.3 L161.2,640.5 L162.0,637.5 L162.7,635.3 L163.4,633.1 L164.2,633.8 L164.9,631.6 L165.7,633.1 L166.4,630.1 L167.2,628.6 L167.9,630.1 L168.7,627.8 L170.0,627.8 L171.6,628.7 L173.3,626.2 L174.9,627.8 L176.5,631.1 L177.3,628.7 L178.9,623.0 L179.8,620.5 L181.4,619.7 L182.2,618.1 L183.8,608.3 L185.0,605.1 L186.3,605.9 L187.6,609.1 L188.7,613.2 L189.5,617.3 L190.8,616.5 L192.0,618.1 L193.6,618.9 L194.4,613.2 L196.0,604.3 L196.8,601.0 L198.0,600.2 L199.3,602.6 L200.1,606.7 L201.2,609.1 L202.5,610.8 L204.2,613.2 L205.8,614.8 L207.1,616.5 L208.2,619.7 L209.0,616.5 L209.9,613.2 L211.5,612.4 L212.6,610.0 L213.9,608.3 L215.2,605.1 L216.4,601.8 L217.5,599.4 L218.8,596.9 L219.6,596.1 L220.4,598.6 L221.7,602.6 L222.9,606.7 L224.0,609.1 L225.3,610.8 L226.6,608.3 L227.8,605.1 L228.9,602.6 L230.2,601.0 L231.5,596.1 L232.6,594.5 L233.8,596.1 L235.1,593.7 L236.4,590.4 L238.0,588.8 L239.6,588.0 L240.8,586.4 L241.9,583.9 L242.9,583.1 L244.0,585.6 L245.2,586.4 L246.1,589.6 L247.3,592.1 L248.4,588.8 L249.7,583.9 L251.0,583.1 L252.2,581.5 L253.3,579.0 L254.3,576.6 L255.4,577.4 L257.0,579.0 L258.7,576.6 L260.3,574.2 L261.4,577.4 L262.4,580.7 L263.5,582.3 L265.2,583.1 L266.8,583.1 L268.4,581.5 L269.6,577.4 L270.5,570.9 L271.2,568.5 L272.2,577.4 L273.3,585.6 L274.1,592.1 L274.9,597.8 L275.7,596.9 L277.0,595.3 L278.2,596.9 L279.3,599.4 L280.6,599.4 L281.9,597.8 L283.1,593.7 L283.9,590.4 L285.2,583.9 L286.3,579.0 L287.5,573.3 L288.4,569.3 L289.6,567.7 L290.7,566.0 L292.0,564.4 L293.3,564.7 L294.5,566.8 L295.3,580.7 L296.1,596.9 L297.2,613.2 L298.5,632.0 L299.2,639.0 L300.0,633.0 L301.0,629.0 L302.0,632.0 L303.0,635.0 L304.0,636.0 L305.5,637.5 L306.5,642.0 L307.5,648.0 L308.5,653.0 L309.5,658.0 L310.5,664.0 L312.0,667.0 L314.0,668.5 L315.5,667.5 L317.0,666.5 L318.0,664.0 L319.5,660.0 L321.0,653.0 L322.0,647.0 L323.0,643.0 L324.0,640.0 L325.0,637.5 L326.0,639.0 L327.0,643.0 L328.0,647.0 L329.0,651.0 L330.0,655.0 L331.0,657.0 L332.5,657.5 L334.0,659.0 L335.0,656.0 L336.0,653.5 L337.0,653.0 L338.5,652.5 L339.5,650.5 L340.5,648.5 L341.5,647.0 L342.5,646.5 L343.5,645.0 L344.5,643.5 L345.5,641.5 L346.5,638.0 L347.5,635.0 L348.5,633.0 L349.5,632.0 L350.5,632.0 L351.5,631.0 L352.5,630.5 L353.5,631.5 L354.5,630.0 L355.5,629.5 L356.5,630.0 L357.5,629.5 L359.0,629.0 L360.0,630.0 L361.0,630.0 L362.0,629.0 L363.0,628.0 L364.0,627.0 L365.0,629.0 L366.0,629.0 L367.0,625.0 L368.0,623.0 L369.0,623.0 L370.0,625.0 L371.0,627.0 L372.0,628.0 L373.0,629.0 L374.0,629.5 L375.0,630.0 L376.0,631.0 L377.0,632.0 L378.0,633.5 L379.0,633.0 L380.0,633.0 L381.0,634.0 L382.0,632.5 L383.0,631.5 L384.0,630.5 L385.0,630.5 L386.0,630.5 L387.0,631.0 L388.0,627.0 L389.0,623.5 L390.0,620.5 L391.0,619.5 L392.0,620.0 L393.0,615.0 L394.0,611.0 L395.0,611.5 L396.0,612.5 L397.0,613.0 L398.0,610.0 L398.8,599.9 L400.2,593.2 L401.4,588.0 L402.3,580.9 L403.2,570.4 L404.1,565.1 L405.5,562.4 L406.7,558.0 L408.5,555.4 L409.7,551.9 L411.1,549.2 L412.5,546.6 L413.8,544.8 L415.0,543.9 L416.1,540.4 L417.3,539.5 L418.2,540.4 L419.0,536.9 L419.9,533.4 L421.3,529.0 L422.6,527.2 L423.8,524.6 L425.2,525.5 L426.6,528.1 L427.9,534.3 L428.7,536.9 L430.1,528.1 L431.4,522.8 L432.3,518.4 L433.1,521.1 L434.0,531.6 L434.9,516.7 L436.1,514.9 L437.2,515.8 L437.9,506.1 L438.9,514.0 L440.2,531.6 L441.1,542.2 L441.9,549.2 L442.8,542.2 L443.7,531.6 L444.9,521.1 L446.0,512.3 L446.7,508.7 L448.1,512.3 L449.5,511.4 L450.7,514.0 L451.6,516.7 L453.0,517.5 L454.3,501.7 L455.1,499.0 L456.0,505.2 L456.9,522.8 L457.8,536.9 L458.7,541.3 L459.5,536.9 L460.4,528.1 L461.3,522.8 L462.5,521.1 L463.6,515.8 L464.8,512.3 L465.7,503.5 L466.6,502.6 L467.5,505.2 L468.3,515.8 L469.2,531.6 L470.1,539.5 L471.0,537.8 L471.9,531.6 L472.7,522.8 L473.6,507.0 L474.5,499.0 L475.4,503.5 L476.3,512.3 L477.1,522.8 L478.0,530.7 L478.9,532.5 L479.8,522.8 L480.7,514.0 L481.5,505.2 L481.6,508.4 L483.1,492.8 L484.7,489.7 L486.2,497.5 L487.8,478.8 L489.3,524.0 L490.9,538.0 L492.5,533.3 L494.0,517.7 L495.6,499.0 L497.1,486.6 L498.7,478.8 L500.2,483.5 L501.8,489.7 L503.4,477.2 L504.9,483.5 L506.5,489.7 L508.0,455.4 L509.6,514.6 L511.2,555.1 L512.7,553.6 L514.3,536.4 L515.8,508.4 L517.4,524.0 L518.9,545.8 L520.5,553.6 L522.1,539.5 L523.6,524.0 L525.2,517.7 L526.7,516.2 L528.3,505.3 L529.8,489.7 L531.4,478.8 L533.0,477.2 L534.5,478.8 L536.1,480.3 L537.6,514.6 L539.2,539.5 L540.7,558.2 L542.3,570.7 L543.9,569.1 L545.4,573.8 L547.0,583.1 L548.5,589.4 L550.1,586.3 L551.7,592.5 L553.2,601.8 L554.8,608.1 L556.3,611.2 L557.9,598.7 L559.4,586.3 L561.0,576.9 L562.6,564.5 L564.1,566.0 L565.7,569.1 L567.2,570.7 L568.8,569.1 L570.3,566.0 L571.9,559.8" fill="none" stroke="#303030" stroke-width="1.55" stroke-linejoin="round" />
<path d="M38.9,579.4 L187.1,579.4 L189.0,582.0 L191.0,583.0 L397.0,583.0 L398.6,570.0 L399.2,450.0 L400.0,430.7 L401.3,420.9 L403.7,411.1 L407.8,406.3 L412.6,403.8 L419.1,402.6 L445.0,402.2 L535.5,401.8 L536.3,470.0 L536.7,545.0 L537.2,570.7 L539.2,592.5 L542.3,601.8 L548.5,606.5 L557.9,607.4 L573.5,608.0" fill="none" stroke="#4e4e4e" stroke-width="2.2" stroke-linejoin="round" stroke-dasharray="5.6,4.4" />
<path d="M39.3,90.7 L39.6,82.7 L40.1,77.2 L41.7,76.2 L42.6,76.2 L43.5,74.7 L44.5,76.7 L45.4,74.0 L46.3,75.3 L47.2,76.8 L48.4,71.9 L49.6,69.9 L50.9,64.6 L51.8,71.1 L52.7,75.0 L53.6,75.7 L54.5,75.2 L55.4,73.3 L56.3,74.9 L57.3,75.7 L58.2,79.1 L59.4,76.7 L60.3,73.7 L61.2,76.2 L62.1,74.5 L63.0,77.8 L64.0,76.3 L64.9,76.3 L65.8,79.6 L66.7,76.0 L67.6,76.1 L68.5,79.4 L69.5,79.0 L70.4,76.4 L71.3,76.3 L72.2,71.4 L73.1,69.6 L74.0,65.0 L74.9,65.8 L75.9,62.3 L76.8,63.8 L77.7,63.8 L78.6,59.7 L79.5,58.4 L80.4,56.9 L81.3,56.2 L82.3,55.3 L83.2,55.7 L84.1,55.5 L85.0,51.4 L85.9,54.6 L86.8,53.4 L87.7,52.7 L88.7,54.3 L89.9,46.7 L90.5,37.5 L91.7,37.0 L92.6,38.9 L93.5,37.0 L94.8,40.4 L96.0,35.6 L97.2,38.2 L98.4,38.0 L99.3,34.0 L100.2,37.1 L101.5,36.5 L102.7,43.5 L103.6,41.6 L104.5,42.4 L105.4,42.1 L106.3,44.6 L107.3,42.1 L108.2,45.5 L109.1,46.9 L110.0,47.6 L110.9,43.7 L111.8,42.5 L112.7,42.1 L113.7,41.9 L114.6,39.9 L115.5,43.7 L116.7,43.6 L117.9,43.5 L119.1,39.3 L120.4,42.7 L121.6,38.3 L122.8,38.8 L124.0,38.8 L125.2,38.9 L126.5,35.1 L127.7,36.5 L128.8,33.0 L130.0,30.2 L130.9,29.9 L131.8,28.9 L132.7,28.2 L133.7,28.2 L134.6,31.8 L135.5,34.4 L136.4,31.3 L137.3,31.4 L138.2,36.2 L139.1,34.8 L140.1,33.6 L141.0,32.3 L141.9,32.6 L142.8,32.4 L143.7,30.2 L144.6,29.4 L145.5,28.4 L146.5,32.8 L147.4,29.8 L148.3,32.8 L149.2,36.4 L150.1,35.4 L150.7,45.4 L152.0,40.3 L152.9,38.3 L153.8,38.3 L154.7,35.0 L155.6,36.2 L156.5,35.2 L157.4,38.6 L158.4,35.6 L159.3,35.6 L160.2,37.4 L161.1,36.2 L162.0,37.9 L162.9,36.9 L163.8,38.9 L164.8,41.7 L165.7,38.2 L166.6,34.9 L167.8,29.3 L169.0,35.5 L169.9,35.9 L170.9,38.0 L171.8,38.2 L172.7,37.0 L173.6,37.4 L174.5,37.6 L175.4,37.7 L176.3,39.7 L177.3,44.4 L178.2,47.2 L179.1,43.2 L180.0,43.2 L180.9,44.4 L181.8,45.2 L182.7,46.9 L183.7,49.2 L184.9,52.3 L186.1,45.3 L187.3,41.0 L188.5,38.2 L189.8,37.0 L191.0,40.4 L192.2,42.3 L193.4,46.4 L194.6,51.1 L195.9,60.6 L197.1,59.3 L198.0,60.5 L198.9,57.9 L199.8,59.2 L200.7,57.6 L201.6,58.6 L202.6,57.2 L203.5,57.6 L204.4,55.3 L205.3,56.9 L206.2,57.6 L207.1,57.4 L208.0,54.7 L209.0,58.7 L209.9,60.7 L210.8,62.3 L211.7,66.0 L212.9,68.4 L214.1,67.6 L215.4,71.3 L216.6,66.1 L217.5,70.9 L218.4,73.1 L219.6,74.8 L220.5,75.1 L221.5,74.6 L222.4,72.8 L223.3,68.6 L224.1,70.6 L225.0,69.1 L225.9,71.3 L226.8,72.1 L227.7,74.8 L228.7,77.3 L229.6,77.0 L230.5,77.7 L231.4,73.7 L232.3,73.4 L233.2,74.0 L234.1,74.3 L235.1,74.9 L236.0,79.4 L237.2,80.3 L238.4,79.0 L239.3,81.5 L240.2,81.0 L241.2,79.0 L242.1,78.1 L243.0,77.7 L243.9,75.9 L244.8,75.4 L245.7,74.1 L246.6,75.3 L247.6,74.4 L248.5,77.2 L249.4,78.9 L250.6,79.8 L251.8,81.5 L252.7,78.2 L253.7,80.6 L254.6,80.6 L255.5,81.8 L256.7,81.7 L257.6,85.5 L258.5,84.1 L259.8,80.2 L260.7,82.1 L261.6,79.2 L262.5,82.4 L263.4,82.7 L264.3,85.0 L265.2,87.9 L266.2,87.9 L267.1,86.7 L268.0,89.7 L268.9,90.1 L270.1,90.2 L271.3,77.0 L272.0,69.2 L272.6,65.4 L273.8,68.4 L275.0,76.9 L276.2,83.9 L277.4,80.3 L278.4,84.5 L279.3,82.4 L280.2,84.1 L281.1,87.4 L282.0,88.8 L282.9,87.9 L283.8,91.3 L284.8,93.7 L285.7,93.2 L286.6,95.3 L287.8,99.3 L288.4,100.8 L289.6,97.7 L290.9,90.2 L292.1,87.9 L293.3,85.2 L294.5,77.7 L295.7,65.3 L297.0,58.7 L297.9,38.3 L298.8,44.0 L300.0,55.8 L301.2,73.4 L302.4,74.8 L303.7,75.2 L304.9,73.6 L305.5,63.5 L306.7,60.8 L307.6,60.6 L308.5,60.6 L309.5,63.3 L310.4,64.1 L311.3,61.2 L312.2,64.0 L313.1,63.5 L314.0,67.0 L314.9,66.4 L315.9,64.0 L316.8,64.7 L317.7,64.8 L318.6,69.7 L319.5,67.9 L320.4,69.3 L321.2,68.7 L322.1,68.8 L323.0,68.0 L324.0,67.4 L324.9,63.4 L325.8,64.7 L326.7,61.2 L327.6,61.9 L328.5,60.7 L329.5,60.0 L330.4,60.4 L331.3,59.5 L332.2,58.4 L333.1,58.3 L334.0,55.8 L334.9,53.0 L335.9,53.7 L336.8,53.6 L337.7,54.8 L338.6,55.2 L339.5,54.3 L340.4,52.0 L341.3,55.4 L342.3,55.0 L343.2,56.9 L344.1,58.1 L345.0,58.4 L345.9,58.3 L346.8,60.8 L347.7,57.9 L348.7,57.3 L349.6,58.7 L350.5,55.2 L351.4,56.9 L352.3,60.5 L353.2,57.7 L354.1,61.7 L355.1,61.1 L356.0,59.9 L356.9,58.7 L357.8,60.3 L358.7,60.2 L359.6,56.2 L360.5,58.3 L361.5,59.2 L362.4,57.8 L363.3,55.8 L364.2,55.1 L365.1,57.0 L366.0,58.6 L367.0,55.9 L367.9,55.4 L368.8,56.8 L369.7,55.1 L370.6,53.0 L371.8,52.1 L373.0,67.3 L374.0,64.8 L374.9,61.2 L375.8,59.3 L376.7,55.8 L377.6,60.5 L378.5,59.0 L379.5,61.5 L380.4,63.5 L381.3,61.8 L382.2,58.6 L383.1,59.9 L384.0,63.3 L384.9,61.1 L385.9,64.4 L386.8,62.3 L387.7,60.0 L388.6,65.7 L389.5,66.8 L390.4,67.7 L391.3,69.5 L392.3,67.5 L393.2,66.8 L394.1,67.9 L395.0,67.4 L395.9,69.8 L396.8,68.4 L398.0,75.8 L399.3,80.2 L400.5,86.3 L401.4,87.0 L402.3,90.2 L403.2,88.3 L404.1,87.6 L405.1,91.0 L406.0,89.2 L406.9,91.3 L407.8,90.8 L408.7,91.9 L409.6,89.8 L410.5,88.2 L411.5,84.8 L412.7,87.3 L413.9,89.7 L415.1,99.2 L416.3,93.2 L416.9,90.0 L417.8,87.6 L418.8,85.3 L419.7,88.8 L420.7,88.3 L421.6,92.5 L422.6,94.2 L423.5,90.7 L424.5,92.3 L425.4,82.8 L426.4,78.4 L427.3,81.1 L428.3,75.7 L429.2,81.1 L430.2,76.2 L431.1,69.0 L432.1,68.0 L433.0,47.0 L434.0,58.7 L434.9,56.8 L435.9,56.8 L436.8,63.9 L437.8,63.0 L438.7,60.4 L439.7,62.1 L440.6,73.6 L441.6,69.5 L442.5,70.1 L443.5,61.4 L444.4,64.4 L445.4,58.8 L446.3,54.8 L447.3,56.7 L448.2,60.5 L449.2,54.0 L450.1,50.6 L451.1,50.0 L452.0,58.9 L453.0,58.0 L453.9,60.5 L454.8,50.1 L455.8,47.7 L456.7,48.1 L457.7,52.7 L458.6,58.2 L459.6,65.5 L460.5,61.1 L461.5,57.2 L462.4,53.7 L463.4,52.6 L464.3,54.7 L465.3,67.0 L466.2,49.7 L467.2,39.2 L468.1,18.3 L469.1,30.6 L470.0,42.4 L471.0,46.3 L471.9,51.0 L472.9,43.8 L473.8,32.6 L474.8,31.2 L475.7,29.4 L476.7,39.1 L477.6,46.8 L478.6,55.5 L479.5,52.1 L480.5,56.9 L481.4,60.9 L482.4,63.5 L483.3,59.1 L484.3,52.9 L485.2,51.6 L486.2,43.3 L487.1,42.7 L488.1,27.7 L489.0,46.6 L490.0,50.8 L490.9,57.3 L491.9,57.2 L492.8,63.8 L493.7,57.4 L494.7,64.8 L495.6,57.2 L496.6,57.3 L497.5,54.0 L498.5,44.6 L499.4,42.1 L500.4,37.5 L501.9,37.7 L502.8,38.0 L503.8,43.2 L504.7,47.9 L505.7,40.9 L506.6,33.7 L507.6,28.7 L508.5,13.5 L509.5,16.1 L510.4,27.4 L511.8,35.1 L513.3,45.4 L514.2,52.5 L515.2,58.0 L516.1,54.2 L517.1,51.1 L518.0,55.6 L519.0,44.9 L519.9,47.4 L520.9,56.4 L521.8,53.7 L522.8,51.0 L523.7,55.1 L524.7,58.5 L525.6,55.7 L526.6,55.9 L527.5,55.3 L528.5,56.9 L529.4,67.1 L530.4,64.9 L531.3,68.4 L532.3,58.7 L533.2,59.6 L534.2,56.7 L535.1,62.1 L536.1,60.6 L537.0,63.5 L538.0,66.0 L538.9,67.8 L539.8,68.1 L540.8,71.5 L541.7,76.6 L542.7,71.2 L543.6,70.8 L544.6,68.4 L545.5,67.1 L546.5,63.2 L547.4,62.3 L548.4,63.3 L549.3,67.1 L550.3,65.9 L551.2,61.7 L552.2,61.9 L553.1,58.1 L554.1,58.2 L555.0,61.4 L556.0,59.3 L556.9,57.8 L557.9,57.8 L558.8,59.9 L559.8,61.3 L560.7,63.1 L561.7,63.2 L562.6,66.7 L563.6,67.4 L564.5,63.8 L565.5,66.2 L566.4,69.9 L567.4,71.8 L568.3,77.6 L569.3,80.7 L570.2,81.3 L571.2,81.4 L572.1,84.0" fill="none" stroke="#c4c4c4" stroke-width="1.5" stroke-linejoin="round" stroke-dasharray="6,3" />
<path d="M38.8,238.4 L39.6,236.0 L40.4,248.5 L41.0,265.5 L41.5,249.3 L42.6,237.6 L43.7,238.4 L44.8,238.6 L45.8,238.0 L46.9,227.9 L48.0,230.4 L49.1,228.0 L50.2,233.3 L51.3,232.0 L52.4,232.7 L53.4,235.4 L54.5,227.7 L55.6,230.3 L56.7,233.9 L57.8,234.1 L58.9,237.7 L59.9,231.3 L61.0,241.1 L62.1,233.3 L63.2,233.4 L64.3,227.3 L65.4,229.5 L66.5,239.4 L67.5,252.8 L68.6,232.5 L69.7,224.0 L70.8,228.3 L71.6,228.5 L72.4,229.5 L73.2,233.7 L74.0,231.2 L74.9,236.9 L75.7,238.5 L76.5,230.8 L77.3,230.1 L78.1,225.9 L78.9,218.2 L80.0,214.1 L81.1,219.1 L82.2,225.2 L83.3,231.4 L84.3,224.2 L85.4,222.6 L86.5,233.2 L87.6,232.3 L88.7,222.4 L89.8,217.4 L90.9,225.6 L91.9,235.5 L93.0,248.9 L94.1,260.1 L95.2,253.9 L96.3,245.5 L97.4,242.1 L98.4,246.8 L99.5,239.2 L100.6,245.4 L101.7,239.7 L102.8,241.2 L103.9,240.0 L105.0,235.7 L106.0,242.0 L107.1,241.2 L108.2,240.6 L109.3,237.0 L110.4,237.0 L111.5,243.5 L112.5,240.5 L113.6,242.9 L114.7,241.1 L115.8,233.6 L116.9,241.2 L118.0,241.1 L119.1,245.2 L120.1,238.3 L121.2,231.3 L122.3,235.7 L123.4,240.2 L124.5,248.3 L125.6,242.7 L126.6,236.7 L127.7,230.5 L128.3,222.6 L129.4,239.1 L130.0,241.0 L131.1,236.6 L132.2,247.8 L133.3,252.5 L134.3,257.5 L135.4,247.5 L136.5,245.6 L137.6,237.3 L138.7,238.1 L139.8,252.2 L140.8,253.4 L141.9,224.9 L143.0,241.0 L144.1,250.9 L145.2,242.4 L146.3,242.7 L147.4,242.9 L148.4,239.0 L149.5,236.6 L150.6,228.2 L151.7,232.4 L152.8,243.3 L153.9,244.3 L154.9,250.6 L156.0,257.9 L157.1,248.4 L158.2,241.6 L159.3,233.2 L160.4,231.8 L161.5,234.8 L162.5,237.9 L163.6,241.2 L164.7,233.2 L165.8,242.1 L166.9,250.0 L168.0,241.2 L169.0,235.5 L170.1,240.1 L171.2,247.5 L172.3,245.3 L173.4,241.2 L174.5,244.4 L175.6,241.8 L176.6,234.1 L177.7,232.2 L178.8,238.4 L179.9,233.7 L181.0,229.0 L182.1,233.1 L183.1,222.8 L184.2,216.4 L185.3,213.6 L186.4,224.8 L187.5,229.0 L188.6,240.7 L189.7,247.2 L190.7,254.9 L191.8,253.0 L192.9,247.2 L194.0,244.9 L195.1,236.0 L196.2,223.7 L197.2,224.5 L198.3,225.6 L199.4,233.7 L200.5,233.7 L201.6,232.5 L202.7,227.0 L203.8,229.0 L204.8,253.8 L205.9,253.3 L207.0,244.2 L208.1,241.0 L209.2,236.4 L210.3,236.1 L211.3,236.7 L212.4,238.6 L213.5,246.5 L214.6,238.8 L215.7,241.3 L216.8,238.5 L217.9,237.6 L218.9,238.5 L220.0,239.7 L221.1,244.1 L222.2,240.1 L223.3,241.4 L224.4,238.6 L225.5,238.5 L226.6,242.3 L227.3,245.4 L228.1,244.8 L228.9,242.2 L229.7,234.5 L230.5,232.4 L231.2,230.9 L232.0,232.9 L232.8,241.6 L233.6,235.6 L234.3,233.9 L235.1,231.6 L235.9,236.7 L236.7,233.0 L237.5,229.3 L238.2,239.4 L239.0,242.9 L239.8,240.0 L240.6,233.9 L241.4,241.3 L242.1,246.7 L242.9,238.4 L243.7,232.9 L244.5,239.3 L245.2,240.6 L246.0,233.7 L246.8,229.2 L247.6,231.5 L248.4,233.4 L249.1,231.9 L249.9,238.0 L250.7,232.2 L251.5,231.8 L252.3,224.8 L253.0,228.1 L253.8,233.8 L254.6,243.9 L255.4,240.8 L256.2,236.8 L256.9,237.9 L257.7,244.8 L258.5,237.8 L259.3,234.9 L260.5,220.5 L261.3,227.6 L262.1,234.0 L262.9,232.5 L263.6,235.8 L264.4,236.8 L265.2,234.0 L266.0,238.5 L266.7,239.2 L267.5,231.0 L268.3,221.5 L269.1,232.5 L269.9,239.4 L270.6,241.1 L271.4,244.2 L272.2,237.6 L273.0,234.4 L273.8,239.0 L274.5,235.0 L275.3,237.8 L276.1,244.4 L276.9,245.4 L277.6,252.0 L278.4,247.8 L279.2,238.5 L280.0,232.3 L280.8,227.4 L281.5,232.6 L282.3,236.7 L283.1,243.6 L283.9,248.5 L284.7,239.6 L285.4,232.5 L286.2,230.3 L287.0,227.7 L287.8,229.5 L288.6,231.3 L289.3,223.0 L290.1,221.2 L290.9,224.7 L291.7,230.7 L292.4,235.5 L293.2,240.1 L294.0,246.1 L294.8,246.6 L295.6,251.7 L296.3,258.3 L297.1,262.6 L297.9,266.6 L299.0,272.6 L299.8,264.0 L300.5,254.7 L301.3,253.6 L302.1,250.9 L302.9,253.8 L303.7,260.0 L304.4,254.7 L305.2,254.7 L306.0,259.1 L306.8,260.6 L307.6,260.4 L308.3,255.6 L309.1,257.8 L309.9,260.3 L310.7,265.9 L311.4,271.3 L312.5,254.9 L313.3,253.3 L314.1,256.8 L314.9,254.0 L315.7,250.6 L316.4,250.7 L317.2,247.1 L318.0,247.9 L318.8,243.1 L319.5,250.8 L320.3,253.5 L321.6,230.8 L322.3,244.6 L323.1,252.2 L323.9,255.2 L324.7,254.0 L325.5,250.5 L326.2,252.9 L327.0,253.0 L327.8,259.1 L328.6,263.1 L329.3,266.6 L330.1,263.2 L330.9,256.4 L331.7,252.8 L332.5,249.7 L333.2,251.1 L334.0,247.3 L334.8,246.6 L335.6,251.5 L336.4,255.7 L337.1,261.4 L337.9,250.8 L338.7,240.3 L339.5,243.8 L340.2,251.0 L341.0,246.3 L341.8,238.3 L342.6,240.4 L343.4,249.9 L344.1,243.6 L344.9,244.0 L345.7,244.7 L346.5,242.1 L347.3,245.0 L348.0,245.6 L348.8,247.4 L349.6,251.3 L350.4,256.3 L351.2,260.8 L351.9,250.3 L352.7,243.1 L353.5,248.7 L354.3,249.4 L355.0,252.5 L355.8,253.7 L356.6,249.8 L357.4,238.2 L358.2,246.1 L358.9,256.7 L359.7,259.1 L360.5,258.8 L361.3,255.2 L362.1,251.7 L362.8,247.5 L363.6,243.4 L364.4,240.9 L365.2,242.3 L366.0,249.9 L366.7,253.0 L367.5,258.7 L368.3,262.7 L369.1,256.1 L369.8,248.5 L370.6,256.6 L371.4,263.3 L372.2,253.7 L373.0,237.3 L373.7,242.3 L374.5,248.0 L375.3,254.7 L376.1,256.9 L376.9,251.3 L377.6,243.8 L378.4,241.6 L379.2,246.4 L380.0,252.7 L380.7,255.1 L381.5,257.8 L382.3,254.7 L383.1,253.6 L383.9,252.9 L384.6,252.1 L385.4,254.5 L386.2,261.0 L387.0,260.8 L387.8,252.4 L388.5,249.4 L389.3,250.8 L390.1,251.7 L390.9,258.6 L391.7,258.4 L392.4,245.0 L393.2,233.6 L394.0,239.8 L394.8,249.8 L395.5,247.3 L396.3,240.7 L397.1,242.2 L397.9,235.1 L398.7,234.4 L399.4,232.6 L400.2,231.3 L401.0,225.2 L401.8,233.4 L402.6,238.0 L403.3,232.9 L404.1,229.0 L405.4,211.6 L406.4,234.2 L407.2,234.2 L408.0,240.3 L408.8,242.2 L409.6,237.3 L410.3,231.9 L411.1,228.4 L411.9,234.4 L412.7,246.2 L413.5,237.1 L414.2,226.1 L415.0,225.9 L415.8,217.8 L416.7,226.5 L417.5,229.5 L418.4,232.4 L419.2,227.9 L420.1,225.0 L420.9,224.5 L421.8,221.9 L422.6,221.4 L423.5,216.7 L424.3,214.0 L425.2,204.2 L426.0,200.5 L426.9,200.6 L427.7,190.1 L428.6,182.8 L429.4,188.2 L430.3,193.8 L431.1,189.0 L431.9,183.1 L432.8,184.0 L433.6,189.8 L434.5,189.6 L435.3,194.9 L436.2,186.8 L437.0,177.7 L437.9,196.4 L438.7,207.6 L439.6,204.1 L440.4,201.4 L441.3,200.3 L442.1,193.6 L443.0,189.8 L443.8,189.3 L444.7,185.1 L445.5,176.3 L446.4,192.8 L447.2,205.5 L448.1,191.6 L448.9,171.1 L449.7,183.5 L450.6,192.4 L451.4,195.3 L452.3,193.3 L453.1,184.0 L454.0,174.4 L454.8,137.2 L455.7,161.1 L456.5,186.3 L457.4,179.4 L458.2,183.4 L459.1,172.6 L459.9,166.7 L460.8,170.8 L461.6,178.9 L462.5,182.4 L463.3,188.8 L464.2,183.2 L465.0,186.2 L465.8,189.2 L466.7,191.8 L467.5,190.7 L468.4,192.6 L469.2,188.7 L470.1,181.3 L470.9,178.1 L471.8,166.4 L472.6,164.6 L473.5,154.9 L474.3,156.0 L475.2,162.8 L476.0,167.8 L476.9,175.0 L477.7,181.0 L478.6,173.3 L479.4,162.9 L480.3,158.3 L481.1,150.6 L481.9,142.6 L482.8,161.4 L483.6,175.1 L484.5,177.7 L485.3,182.7 L486.2,179.3 L487.0,178.2 L487.9,189.4 L488.7,195.7 L489.6,191.3 L490.4,182.3 L491.3,174.1 L492.1,175.7 L493.0,168.5 L493.8,170.9 L494.7,167.1 L495.5,162.8 L496.4,154.6 L497.2,151.9 L498.1,146.4 L498.9,150.3 L499.7,160.0 L500.0,175.7 L501.5,167.3 L502.7,163.5 L504.0,173.8 L505.1,182.8 L506.4,168.5 L507.3,152.6 L508.2,194.7 L509.5,222.9 L510.6,232.3 L511.9,213.0 L513.2,192.4 L514.3,168.7 L515.5,196.5 L516.5,223.7 L517.4,201.5 L518.3,191.1 L519.2,184.4 L520.1,176.8 L521.0,169.9 L521.9,168.3 L523.4,159.5 L524.7,176.8 L526.0,190.2 L527.4,178.9 L528.9,170.0 L530.2,173.5 L531.5,166.8 L532.9,170.4 L534.4,183.0 L535.7,196.1 L536.9,202.0 L538.4,214.8 L539.9,228.5 L541.2,237.4 L542.4,227.9 L543.9,225.6 L545.4,216.9 L546.6,229.4 L547.9,219.7 L549.4,234.9 L550.9,229.4 L552.1,252.6 L553.4,269.2 L554.5,252.3 L555.8,240.5 L557.1,233.7 L558.5,224.9 L559.4,223.5 L560.4,221.1 L561.8,223.2 L563.1,230.0 L564.4,240.5 L565.8,235.8 L567.3,233.3 L568.6,230.7 L569.9,229.1 L571.3,223.9 L572.3,227.8" fill="none" stroke="#c2c2c2" stroke-width="1.6" stroke-linejoin="round" />
<path d="M38.7,59.0 L39.3,52.0 L40.5,45.8 L41.7,47.6 L42.9,53.3 L44.1,55.8 L45.1,54.4 L46.0,54.8 L46.9,60.8 L47.8,61.8 L49.0,55.6 L49.9,59.6 L50.9,58.9 L51.8,61.5 L52.7,61.4 L53.6,60.7 L54.5,57.8 L55.4,60.4 L56.3,62.2 L57.3,58.8 L58.2,57.5 L59.1,58.4 L60.0,57.5 L60.9,59.3 L61.8,58.1 L63.0,56.5 L64.3,54.9 L65.2,59.1 L66.1,58.9 L67.0,58.3 L67.9,57.3 L68.8,57.7 L69.8,59.3 L70.7,56.8 L71.6,57.7 L72.8,61.3 L73.7,60.6 L74.6,57.9 L75.5,60.0 L76.5,65.0 L77.4,65.9 L78.3,69.2 L79.2,67.9 L80.1,69.2 L81.3,70.5 L82.3,72.5 L83.2,73.2 L84.4,68.2 L85.3,64.2 L86.2,59.3 L87.4,66.6 L88.4,66.4 L89.3,67.9 L90.2,70.7 L91.1,74.2 L92.3,79.2 L93.5,72.4 L94.8,72.5 L96.0,75.3 L97.2,75.1 L98.4,75.1 L99.6,79.3 L100.9,79.9 L102.1,73.6 L103.3,71.5 L104.2,69.2 L105.1,67.2 L106.0,69.4 L107.0,69.3 L108.2,69.7 L109.1,71.1 L110.0,68.5 L110.9,68.1 L111.8,69.3 L112.7,71.6 L113.7,72.6 L114.6,72.6 L115.5,77.7 L116.7,74.5 L117.9,75.7 L119.1,73.0 L120.1,74.4 L121.0,74.2 L121.9,73.1 L122.8,75.5 L123.7,73.6 L124.6,73.4 L125.5,78.3 L126.5,79.3 L127.7,87.2 L128.9,83.1 L129.8,85.0 L130.7,84.6 L131.2,84.2 L132.4,84.7 L133.4,80.9 L134.3,81.4 L135.2,80.6 L136.1,78.1 L137.0,79.9 L137.9,81.7 L138.8,81.2 L139.8,80.1 L140.7,79.4 L141.6,79.0 L142.5,85.6 L143.4,89.5 L144.0,84.4 L144.9,84.8 L145.9,82.5 L146.8,82.1 L147.7,83.9 L148.9,87.1 L149.8,84.2 L150.7,79.2 L151.6,78.8 L152.6,77.6 L153.5,74.4 L154.4,75.3 L155.6,72.9 L156.8,72.1 L157.7,76.6 L158.7,78.4 L159.9,76.7 L161.1,82.9 L162.3,79.3 L163.2,78.2 L164.1,74.4 L165.4,75.7 L166.6,84.0 L167.8,88.7 L169.0,81.3 L169.9,80.8 L170.9,80.1 L172.1,76.7 L173.0,77.4 L173.9,77.9 L174.8,76.8 L175.7,76.4 L177.0,74.2 L178.2,72.0 L179.1,74.0 L180.0,72.0 L180.9,73.3 L181.8,73.3 L182.7,72.4 L183.7,72.7 L184.9,82.1 L185.8,80.6 L186.7,81.1 L187.6,80.7 L188.5,80.5 L189.5,76.5 L190.4,75.5 L191.3,76.1 L192.2,78.5 L193.4,72.2 L194.3,72.5 L195.2,68.8 L196.5,67.0 L197.4,67.5 L198.3,67.7 L199.5,64.9 L200.4,63.5 L201.3,62.5 L202.3,64.3 L203.2,63.4 L204.1,65.3 L205.0,65.1 L205.9,63.4 L206.8,64.3 L207.7,65.0 L208.7,63.2 L209.6,64.4 L210.5,63.3 L211.7,61.3 L212.6,60.7 L213.5,61.3 L214.5,58.2 L215.4,57.3 L216.3,58.1 L217.2,58.7 L218.1,58.1 L219.0,59.3 L219.9,57.2 L220.9,57.2 L221.8,61.2 L222.7,61.6 L223.6,62.6 L224.5,61.2 L225.4,63.1 L226.2,63.0 L227.4,54.4 L228.7,52.6 L229.9,55.4 L230.8,56.0 L231.7,56.7 L232.6,55.2 L233.5,54.8 L234.8,58.0 L235.7,53.2 L236.6,50.8 L237.8,47.3 L239.0,51.6 L239.9,50.7 L240.9,55.6 L242.1,57.3 L243.3,63.0 L244.5,55.6 L245.4,51.3 L246.3,45.9 L247.6,47.5 L248.5,52.0 L249.4,51.7 L250.6,58.3 L251.8,65.7 L253.0,68.9 L254.3,56.3 L255.2,57.6 L256.1,55.8 L257.3,57.2 L258.2,58.7 L259.1,62.8 L260.4,65.0 L261.6,57.6 L262.5,53.6 L263.4,50.6 L264.6,54.3 L265.5,54.7 L266.5,51.7 L267.4,55.8 L268.3,58.1 L269.5,60.1 L270.7,45.6 L272.0,47.5 L273.2,59.5 L274.1,59.1 L275.0,55.0 L275.9,53.3 L276.8,50.9 L277.7,50.6 L278.7,49.0 L279.6,50.4 L280.5,52.7 L281.4,51.1 L282.3,52.5 L283.5,55.2 L284.5,56.5 L285.4,57.5 L286.6,58.3 L287.5,54.2 L288.4,47.8 L289.6,37.1 L290.9,38.8 L292.1,43.7 L293.3,48.7 L294.5,52.2 L295.7,58.1 L297.0,63.4 L298.2,76.2 L299.4,59.6 L300.3,53.1 L301.2,48.9 L302.1,49.1 L303.0,47.6 L304.0,46.5 L304.9,46.9 L306.1,52.5 L307.3,57.0 L308.2,55.2 L309.1,51.3 L310.4,50.4 L311.3,51.5 L312.2,52.7 L313.1,53.7 L314.0,55.4 L314.9,56.7 L315.9,56.3 L317.1,56.1 L318.3,57.7 L319.5,58.1 L320.4,57.3 L321.3,56.1 L321.8,56.3 L322.7,56.3 L323.7,55.1 L324.6,56.1 L325.5,55.7 L326.4,53.1 L327.3,54.4 L328.2,53.4 L329.1,50.9 L330.4,52.2 L331.6,60.1 L332.5,64.4 L333.4,65.7 L334.3,67.1 L335.2,67.4 L336.2,68.2 L337.1,69.6 L338.3,72.7 L339.5,69.8 L340.4,72.8 L341.3,71.9 L342.3,73.0 L343.2,75.9 L344.1,72.6 L345.0,72.2 L346.2,71.0 L347.1,70.8 L348.0,65.2 L349.0,65.2 L349.9,68.8 L350.8,67.4 L351.7,71.2 L352.6,71.2 L353.5,72.4 L354.5,71.6 L355.4,69.1 L356.3,68.6 L357.2,64.7 L358.1,66.1 L359.0,63.9 L359.9,65.9 L360.9,64.9 L361.8,67.5 L362.7,68.5 L363.6,64.5 L364.5,64.5 L365.7,69.0 L367.0,77.3 L368.2,67.9 L369.4,66.4 L370.6,72.8 L371.5,74.1 L372.4,74.6 L373.7,68.4 L374.6,68.3 L375.5,68.4 L376.4,67.0 L377.3,66.0 L378.2,63.6 L379.1,63.9 L380.1,66.8 L381.0,66.0 L381.9,69.1 L382.8,68.8 L384.0,67.0 L384.9,66.0 L385.9,64.5 L386.8,62.7 L387.7,61.4 L388.6,62.0 L389.5,62.9 L390.4,59.6 L391.3,58.8 L392.3,60.5 L393.2,60.5 L394.4,60.3 L395.3,61.9 L396.2,64.7 L397.1,62.2 L398.0,61.8 L399.0,65.3 L399.9,70.3 L401.1,64.5 L402.0,63.5 L402.9,64.6 L404.1,69.2 L405.4,65.6 L406.6,61.0 L407.8,56.3 L409.0,62.7 L410.2,59.3 L411.5,64.3 L412.7,59.2 L413.9,58.5 L415.1,63.8 L416.3,67.1 L416.9,63.8 L417.8,66.4 L418.8,68.2 L419.7,68.9 L420.7,65.6 L421.6,68.7 L422.6,66.9 L423.5,67.3 L424.5,66.2 L425.4,66.9 L426.4,66.2 L427.3,70.0 L428.3,74.4 L429.2,77.8 L430.2,82.3 L431.1,81.3 L432.1,88.6 L433.0,95.1 L434.0,98.9 L434.9,104.7 L435.9,99.1 L436.8,97.0 L437.8,83.4 L438.7,90.3 L439.7,94.3 L440.6,86.8 L441.6,83.5 L442.5,74.6 L443.5,76.9 L444.4,83.7 L445.4,88.6 L446.3,92.7 L447.3,89.7 L448.2,96.3 L449.2,95.9 L450.1,100.5 L451.1,104.7 L452.0,101.7 L453.0,104.6 L453.9,113.1 L454.8,98.6 L455.8,88.6 L456.7,86.5 L457.7,90.1 L458.6,87.8 L459.6,88.4 L460.5,87.3 L461.5,89.6 L462.4,89.4 L463.4,89.4 L464.3,89.4 L465.3,91.7 L466.2,99.5 L467.8,113.4 L469.1,122.1 L470.0,122.3 L471.0,115.2 L471.9,117.3 L472.9,113.7 L474.2,120.8 L475.3,104.4 L476.1,81.2 L477.6,89.9 L478.6,93.5 L479.5,93.8 L480.5,98.6 L481.4,100.4 L482.4,111.0 L483.7,114.5 L485.2,120.1 L486.7,108.4 L487.7,87.2 L488.6,101.4 L489.6,113.3 L490.9,118.1 L492.4,107.5 L493.7,106.5 L494.7,110.0 L496.2,107.3 L497.5,117.6 L498.5,123.1 L499.4,124.8 L500.4,123.3 L501.3,130.6 L501.9,121.2 L502.8,119.1 L503.8,127.1 L504.7,128.7 L506.1,139.6 L507.2,100.9 L508.0,77.2 L508.5,105.3 L509.5,117.4 L511.0,115.9 L512.3,122.4 L513.3,125.2 L514.8,109.2 L515.6,95.1 L516.7,78.3 L518.0,90.0 L519.4,97.2 L520.9,98.1 L522.4,95.5 L523.7,100.2 L524.7,104.9 L525.6,99.5 L526.6,103.0 L527.5,101.1 L528.5,104.5 L529.4,100.9 L530.4,99.3 L531.3,98.4 L532.3,98.6 L533.2,99.4 L534.5,88.6 L535.1,80.9 L536.1,65.9 L537.0,65.2 L538.0,62.0 L538.9,60.2 L539.8,63.4 L540.8,60.2 L541.7,56.3 L543.3,49.7 L544.6,53.3 L545.5,57.4 L546.5,60.5 L547.4,58.3 L548.4,55.9 L549.7,48.6 L550.9,43.8 L552.2,35.5 L553.1,42.4 L554.1,46.3 L555.0,48.8 L556.0,50.8 L556.9,54.7 L557.9,52.9 L558.8,56.6 L560.3,51.3 L561.3,53.4 L562.2,53.2 L563.4,56.7 L564.5,59.6 L565.5,57.0 L566.4,55.4 L567.4,51.5 L568.3,47.2 L569.3,44.5 L570.2,38.4 L571.7,36.6" fill="none" stroke="#222222" stroke-width="1.8" stroke-linejoin="round" stroke-dasharray="7,3" />
<path d="M38.8,215.6 L39.6,207.2 L40.4,220.4 L41.5,233.7 L42.6,234.2 L43.7,233.1 L45.0,211.7 L45.8,214.6 L46.9,222.2 L48.0,224.2 L49.1,230.5 L50.2,234.2 L50.7,245.1 L51.8,229.3 L52.9,225.9 L54.3,218.1 L55.6,213.2 L56.7,208.6 L57.8,218.8 L58.3,230.1 L59.4,227.0 L60.5,225.5 L61.6,223.2 L62.7,224.9 L63.7,221.1 L64.8,225.8 L65.6,224.6 L66.5,224.4 L67.5,213.9 L68.6,220.6 L69.7,224.7 L70.5,228.2 L71.3,230.2 L72.1,232.6 L73.0,231.9 L73.8,233.0 L74.6,234.8 L75.4,238.2 L76.2,238.0 L77.3,241.8 L78.4,236.6 L79.5,233.8 L80.0,243.9 L81.1,242.0 L82.2,245.8 L83.3,229.6 L84.3,229.0 L85.4,249.4 L86.8,264.0 L87.6,248.2 L88.7,242.8 L89.8,251.5 L90.9,251.7 L91.9,251.0 L93.0,247.2 L94.1,240.0 L95.2,235.1 L96.3,247.0 L97.4,263.1 L98.4,252.7 L99.5,249.6 L100.6,252.1 L101.7,248.3 L102.8,252.3 L103.6,253.5 L104.4,255.0 L105.5,257.7 L106.6,250.9 L107.7,257.9 L108.8,269.7 L109.8,260.9 L110.9,253.6 L112.0,254.5 L113.1,255.4 L114.2,251.6 L115.3,248.6 L116.3,249.3 L117.4,243.3 L118.5,241.4 L119.6,243.7 L120.7,253.4 L121.8,265.0 L122.9,256.1 L123.9,251.5 L125.0,266.8 L126.1,254.0 L127.2,250.2 L128.3,246.5 L129.4,251.0 L130.0,251.6 L131.1,251.2 L132.2,249.5 L133.3,246.7 L134.3,248.6 L135.4,238.0 L136.5,241.7 L137.6,248.8 L138.7,249.6 L139.8,248.9 L140.8,253.6 L141.9,254.1 L143.0,247.7 L144.1,237.1 L145.2,239.3 L146.3,261.1 L147.4,247.5 L148.4,237.2 L149.5,234.9 L150.6,241.2 L151.7,244.3 L152.8,249.5 L153.9,249.2 L154.9,252.3 L156.0,253.6 L157.1,249.8 L158.2,256.6 L159.3,251.4 L160.4,270.7 L161.5,250.6 L162.5,246.7 L163.6,248.5 L164.7,248.7 L165.8,244.4 L166.9,250.6 L168.0,247.7 L169.0,241.7 L170.1,242.8 L171.2,237.0 L172.3,235.7 L173.4,240.9 L174.5,241.7 L175.6,246.8 L176.6,258.4 L177.7,246.2 L178.8,248.6 L179.9,253.5 L181.0,265.1 L182.1,255.2 L183.1,258.4 L184.2,254.5 L185.3,251.8 L186.4,250.7 L187.5,245.3 L188.6,246.6 L189.7,248.3 L190.7,241.5 L191.8,240.5 L192.9,237.5 L194.0,234.3 L195.1,232.2 L196.2,222.1 L196.7,218.3 L197.8,221.6 L198.3,243.7 L199.4,244.9 L200.5,245.0 L201.6,241.0 L202.7,233.2 L203.8,230.7 L204.8,235.3 L205.9,239.6 L207.0,242.3 L208.1,254.5 L209.2,231.8 L210.3,208.5 L211.3,219.4 L212.4,237.5 L213.5,212.5 L214.6,226.7 L215.7,235.4 L216.8,223.0 L217.9,221.4 L218.9,219.0 L220.0,217.3 L221.1,219.2 L222.2,224.7 L223.3,230.9 L224.4,232.7 L225.5,226.7 L226.6,218.5 L227.8,204.5 L228.9,216.9 L229.7,221.2 L230.5,224.3 L231.2,224.8 L232.0,224.5 L233.1,214.3 L234.3,230.6 L235.1,221.5 L235.9,212.0 L236.7,215.4 L237.5,221.0 L238.2,217.9 L239.0,214.6 L239.8,215.4 L240.6,218.2 L241.8,202.4 L242.9,203.7 L243.7,198.8 L244.5,196.6 L245.6,208.2 L246.8,235.9 L247.6,255.8 L248.4,233.6 L249.6,220.5 L250.7,215.7 L251.8,212.9 L252.6,202.1 L253.3,195.7 L254.6,209.0 L255.8,203.5 L256.9,201.2 L257.7,199.2 L258.5,200.0 L259.3,202.6 L260.0,201.6 L260.8,200.5 L261.6,201.8 L262.4,203.5 L263.2,208.7 L263.9,211.3 L264.7,211.3 L265.5,215.3 L266.3,216.8 L267.1,214.5 L267.8,212.2 L268.9,207.0 L270.2,170.7 L271.0,204.4 L272.0,240.1 L273.3,229.3 L274.1,224.0 L274.8,221.3 L275.6,209.5 L276.4,202.3 L277.2,201.3 L278.0,197.6 L279.2,199.3 L280.3,212.0 L281.1,211.7 L281.9,213.4 L282.9,197.8 L284.2,189.2 L285.0,188.6 L285.7,193.1 L287.0,195.1 L288.1,187.8 L288.9,199.3 L290.1,236.7 L291.2,237.5 L292.3,230.5 L293.5,219.2 L294.8,238.0 L295.9,239.6 L297.0,230.9 L298.2,231.4 L299.0,227.0 L299.8,223.0 L301.0,217.5 L302.1,216.1 L302.9,213.6 L303.7,210.9 L304.8,205.4 L306.0,215.2 L306.8,220.8 L307.6,225.7 L308.3,236.1 L309.1,242.2 L310.4,225.7 L311.1,228.1 L311.9,232.1 L312.7,236.1 L313.5,236.4 L314.3,235.8 L315.0,236.0 L316.1,227.4 L316.9,221.3 L317.7,218.2 L318.5,216.9 L319.2,216.1 L320.0,218.6 L320.8,219.0 L321.6,216.2 L322.3,216.7 L323.1,219.8 L323.9,217.8 L324.7,217.9 L325.9,224.4 L327.0,235.2 L327.8,239.7 L328.6,230.7 L329.3,229.4 L330.1,225.2 L330.9,225.9 L331.7,228.3 L332.5,224.1 L333.2,222.6 L334.0,225.7 L334.8,232.5 L335.6,227.6 L336.4,222.7 L337.1,218.3 L337.9,220.2 L338.7,217.6 L339.5,212.8 L340.7,199.2 L341.8,226.1 L343.1,206.9 L344.1,213.6 L344.9,214.0 L345.7,217.6 L346.5,222.3 L347.3,223.9 L348.0,225.4 L348.8,231.3 L349.6,221.6 L350.4,210.6 L351.2,207.6 L351.9,205.9 L352.7,214.0 L353.5,216.9 L354.3,210.9 L355.0,201.8 L355.8,202.9 L356.6,207.5 L357.4,212.8 L358.2,216.1 L358.9,216.3 L359.7,223.1 L360.5,217.5 L361.3,213.7 L362.1,207.9 L362.8,207.2 L363.6,215.4 L364.4,229.1 L365.2,236.8 L366.0,229.9 L366.7,225.0 L367.5,221.2 L368.3,214.5 L369.5,204.0 L370.6,214.4 L371.7,230.5 L373.0,202.4 L373.7,207.7 L374.5,209.4 L375.3,210.8 L376.1,215.4 L376.9,220.4 L377.6,224.9 L378.4,226.7 L379.2,223.0 L380.0,218.3 L380.7,209.4 L381.5,210.8 L382.3,204.6 L383.6,200.7 L384.6,201.8 L385.4,208.3 L386.2,216.3 L387.0,217.3 L387.8,213.4 L388.5,207.3 L389.3,203.7 L390.1,209.4 L390.9,215.8 L391.7,217.6 L392.4,218.6 L393.2,218.5 L394.0,218.3 L394.8,215.1 L395.5,214.2 L396.3,208.8 L397.1,206.7 L397.9,199.0 L398.7,193.5 L399.4,182.6 L400.2,174.4 L401.0,179.5 L401.8,189.2 L402.6,191.4 L403.3,192.8 L404.1,193.4 L404.9,194.8 L405.7,186.1 L406.4,184.9 L407.2,179.1 L408.0,175.6 L408.8,183.4 L409.6,187.5 L410.3,182.6 L411.1,178.0 L411.9,188.0 L412.7,193.5 L413.5,194.3 L414.2,192.1 L415.0,187.9 L415.8,182.9 L416.7,178.1 L417.5,177.5 L418.4,178.7 L419.2,180.1 L420.1,185.1 L420.9,181.0 L421.8,178.9 L422.6,172.6 L423.5,170.3 L424.3,185.7 L425.5,205.1 L426.9,204.9 L427.7,226.7 L428.6,237.1 L429.4,217.6 L430.3,207.7 L431.1,204.8 L431.9,199.7 L432.8,198.0 L433.6,215.0 L434.5,214.6 L435.3,199.6 L436.2,213.3 L437.0,218.6 L437.9,213.7 L438.7,249.3 L439.6,234.2 L440.4,231.2 L441.3,232.2 L442.1,231.6 L443.0,223.8 L443.8,212.0 L444.7,211.6 L445.5,209.0 L446.4,200.4 L447.2,219.0 L448.1,212.1 L448.9,208.4 L449.7,207.2 L450.6,208.0 L451.4,210.3 L452.3,213.9 L453.1,206.7 L454.0,200.2 L454.8,206.1 L455.7,225.7 L456.5,247.5 L457.4,269.3 L458.2,253.4 L459.1,246.0 L459.9,232.0 L460.8,224.1 L461.6,224.5 L462.5,211.2 L463.3,194.7 L464.2,198.6 L465.0,200.7 L465.8,199.1 L466.7,206.0 L467.5,211.0 L468.9,233.0 L470.1,210.8 L470.9,209.2 L471.8,206.3 L472.6,201.9 L473.5,194.9 L474.3,210.2 L475.2,236.8 L476.0,251.1 L477.4,248.2 L478.6,239.2 L479.4,234.5 L480.3,234.7 L481.1,229.9 L481.9,226.9 L482.8,219.2 L483.6,211.9 L484.5,190.6 L485.3,196.8 L486.2,207.4 L487.0,208.8 L487.9,209.3 L488.7,224.7 L489.6,210.1 L490.4,208.9 L491.3,198.6 L492.1,186.1 L493.0,227.6 L493.8,217.5 L494.7,208.7 L495.5,207.1 L496.4,210.5 L497.2,212.5 L498.1,211.0 L498.9,215.5 L499.7,221.1 L500.0,223.2 L501.5,214.4 L502.7,206.4 L504.0,210.2 L505.1,214.8 L505.9,220.6 L507.0,195.5 L508.2,214.3 L509.1,241.5 L510.1,246.4 L511.3,236.4 L512.4,207.4 L513.7,193.8 L514.6,190.2 L515.5,210.4 L516.5,267.1 L517.4,252.4 L518.3,246.2 L519.2,245.0 L520.1,244.1 L521.0,237.9 L521.9,237.0 L522.9,248.3 L524.1,241.1 L525.6,233.6 L527.1,212.7 L528.4,229.4 L529.3,224.8 L530.2,219.1 L531.5,209.3 L532.9,215.7 L533.8,211.8 L534.8,211.6 L535.7,209.9 L536.6,228.2 L537.5,253.5 L538.4,257.2 L539.3,270.2 L540.2,255.3 L541.7,251.3 L543.0,235.2 L543.9,251.6 L544.8,256.2 L546.1,250.3 L547.6,259.0 L548.5,242.4 L549.4,236.5 L550.9,247.4 L552.1,257.0 L553.4,266.0 L554.5,259.8 L555.8,255.3 L557.1,269.1 L558.5,256.2 L560.0,247.7 L561.3,247.4 L562.6,258.3 L564.0,255.0 L565.5,240.6 L566.8,246.3 L568.0,241.6 L569.5,238.9 L570.4,234.1 L571.3,245.5 L572.3,233.3" fill="none" stroke="#222222" stroke-width="1.8" stroke-linejoin="round" /></svg></body></html>
